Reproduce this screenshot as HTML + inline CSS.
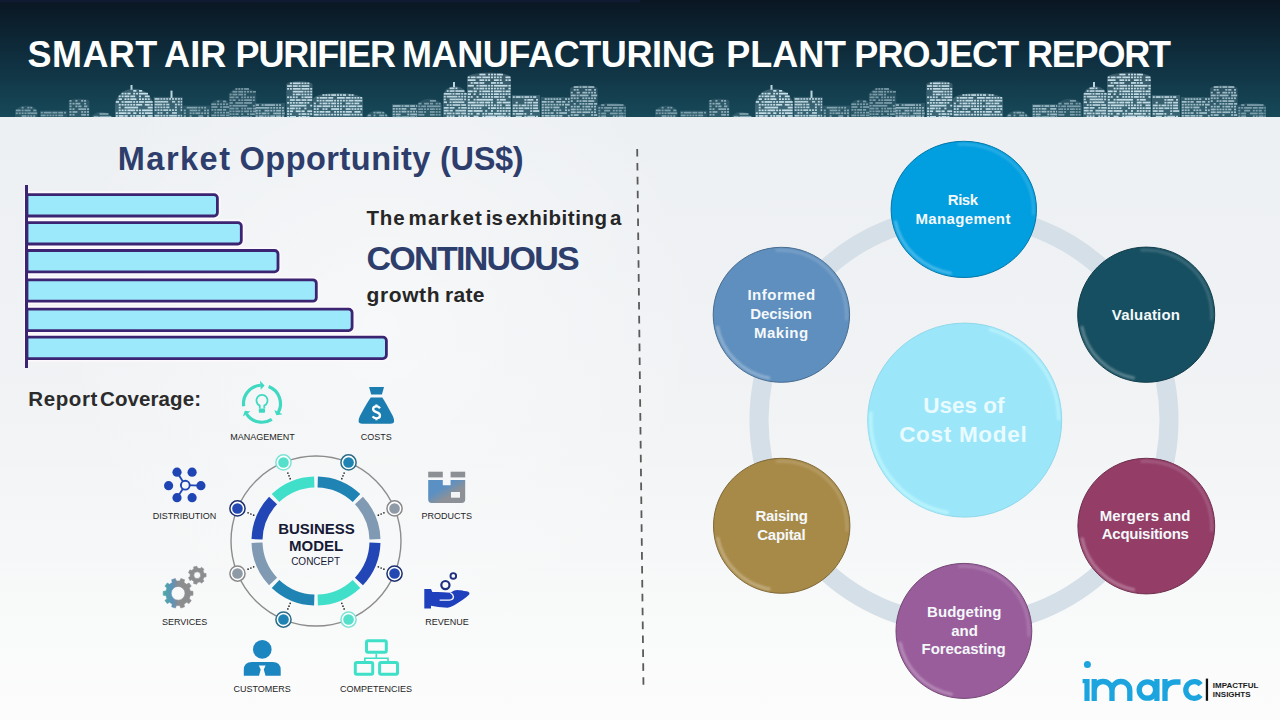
<!DOCTYPE html>
<html><head><meta charset="utf-8">
<style>
html,body{margin:0;padding:0;}
body{width:1280px;height:720px;overflow:hidden;position:relative;background:#eff1f4;font-family:"Liberation Sans",sans-serif;}
svg{position:absolute;left:0;top:0;}
</style></head><body>
<svg width="1280" height="720" viewBox="0 0 1280 720">
<defs>
<linearGradient id="hdr" x1="0" y1="0" x2="0" y2="1">
<stop offset="0" stop-color="#0a1622"/>
<stop offset="0.5" stop-color="#0f2f3f"/>
<stop offset="1" stop-color="#174959"/>
</linearGradient>
<linearGradient id="bg" x1="0" y1="0" x2="0" y2="1">
<stop offset="0" stop-color="#eff2f4"/>
<stop offset="0.5" stop-color="#f3f5f6"/>
<stop offset="1" stop-color="#f6f7f8"/>
</linearGradient>
</defs>
<defs>
<linearGradient id="bgv" x1="0" y1="117" x2="0" y2="720" gradientUnits="userSpaceOnUse"><stop offset="0" stop-color="#edf0f3"/><stop offset="0.5" stop-color="#f1f3f5"/><stop offset="0.85" stop-color="#f9fafa"/><stop offset="1" stop-color="#fcfcfd"/></linearGradient>
<radialGradient id="lt1" cx="380" cy="330" r="330" gradientUnits="userSpaceOnUse"><stop offset="0" stop-color="#ffffff" stop-opacity="0.45"/><stop offset="1" stop-color="#ffffff" stop-opacity="0"/></radialGradient>
</defs>
<rect x="0" y="117" width="1280" height="603" fill="url(#bgv)"/>
<rect x="0" y="117" width="1280" height="603" fill="url(#lt1)"/>
<!-- HEADER -->
<rect x="0" y="0" width="1280" height="117" fill="url(#hdr)"/>
<rect x="0" y="0" width="640" height="2.5" fill="#151f40" opacity="0.55"/>
<g><g id="sky" fill="#cfe6ef"><g><path d="M15 117 V112.3 A11.2 6.8 0 0 1 37.5 112.3 V117 Z" opacity="0.11"/><g opacity="0.5"><rect x="21.6" y="106.8" width="2.0" height="1.7"/><rect x="27.4" y="106.8" width="2.0" height="1.7"/><rect x="30.3" y="106.8" width="2.0" height="1.7"/><rect x="15.8" y="109.6" width="3.2" height="1.7"/><rect x="18.7" y="109.6" width="2.0" height="1.7"/><rect x="21.6" y="109.6" width="2.0" height="1.7"/><rect x="24.5" y="109.6" width="3.2" height="1.7"/><rect x="27.4" y="109.6" width="3.2" height="1.7"/><rect x="33.2" y="109.6" width="3.2" height="1.7"/><rect x="15.8" y="112.4" width="2.0" height="1.7"/><rect x="18.7" y="112.4" width="2.0" height="1.7"/><rect x="21.6" y="112.4" width="2.0" height="1.7"/><rect x="24.5" y="112.4" width="2.0" height="1.7"/><rect x="27.4" y="112.4" width="3.2" height="1.7"/><rect x="30.3" y="112.4" width="3.2" height="1.7"/><rect x="33.2" y="112.4" width="3.2" height="1.7"/><rect x="36.1" y="112.4" width="1.1" height="1.7"/><rect x="21.6" y="115.2" width="3.2" height="1.7"/><rect x="24.5" y="115.2" width="2.0" height="1.7"/><rect x="27.4" y="115.2" width="2.0" height="1.7"/><rect x="30.3" y="115.2" width="2.0" height="1.7"/><rect x="33.2" y="115.2" width="2.0" height="1.7"/></g></g><g><path d="M40 117 V110.6 A13.8 0.0 0 0 1 67.5 110.6 V117 Z" opacity="0.11"/><g opacity="0.5"><rect x="40.8" y="111.8" width="2.0" height="1.7"/><rect x="43.7" y="111.8" width="3.2" height="1.7"/><rect x="46.6" y="111.8" width="3.2" height="1.7"/><rect x="49.5" y="111.8" width="2.0" height="1.7"/><rect x="52.4" y="111.8" width="3.2" height="1.7"/><rect x="55.3" y="111.8" width="2.0" height="1.7"/><rect x="58.2" y="111.8" width="3.2" height="1.7"/><rect x="61.1" y="111.8" width="2.0" height="1.7"/><rect x="64.0" y="111.8" width="2.0" height="1.7"/><rect x="40.8" y="114.6" width="3.2" height="1.7"/><rect x="43.7" y="114.6" width="2.0" height="1.7"/><rect x="46.6" y="114.6" width="2.0" height="1.7"/><rect x="49.5" y="114.6" width="2.0" height="1.7"/><rect x="52.4" y="114.6" width="2.0" height="1.7"/><rect x="55.3" y="114.6" width="2.0" height="1.7"/><rect x="58.2" y="114.6" width="3.2" height="1.7"/><rect x="61.1" y="114.6" width="2.0" height="1.7"/></g></g><g><path d="M68.75 117 V101.2 A10.3 2.5 0 0 1 89.4 101.2 V117 Z" opacity="0.13"/><g opacity="0.6"><rect x="69.5" y="100.0" width="2.0" height="1.7"/><rect x="75.4" y="100.0" width="2.0" height="1.7"/><rect x="81.2" y="100.0" width="2.0" height="1.7"/><rect x="84.1" y="100.0" width="2.0" height="1.7"/><rect x="69.5" y="102.8" width="2.0" height="1.7"/><rect x="72.5" y="102.8" width="2.0" height="1.7"/><rect x="75.4" y="102.8" width="3.2" height="1.7"/><rect x="78.3" y="102.8" width="2.0" height="1.7"/><rect x="84.1" y="102.8" width="2.0" height="1.7"/><rect x="69.5" y="105.5" width="2.0" height="1.7"/><rect x="75.4" y="105.5" width="2.0" height="1.7"/><rect x="78.3" y="105.5" width="3.2" height="1.7"/><rect x="84.1" y="105.5" width="3.2" height="1.7"/><rect x="69.5" y="108.3" width="2.0" height="1.7"/><rect x="72.5" y="108.3" width="2.0" height="1.7"/><rect x="78.3" y="108.3" width="3.2" height="1.7"/><rect x="81.2" y="108.3" width="3.2" height="1.7"/><rect x="84.1" y="108.3" width="2.0" height="1.7"/><rect x="87.0" y="108.3" width="2.1" height="1.7"/><rect x="69.5" y="111.1" width="2.0" height="1.7"/><rect x="72.5" y="111.1" width="3.2" height="1.7"/><rect x="75.4" y="111.1" width="2.0" height="1.7"/><rect x="81.2" y="111.1" width="2.0" height="1.7"/><rect x="84.1" y="111.1" width="2.0" height="1.7"/><rect x="87.0" y="111.1" width="2.0" height="1.7"/><rect x="69.5" y="113.9" width="2.0" height="1.7"/><rect x="72.5" y="113.9" width="2.0" height="1.7"/><rect x="81.2" y="113.9" width="3.2" height="1.7"/><rect x="84.1" y="113.9" width="2.0" height="1.7"/><rect x="87.0" y="113.9" width="2.0" height="1.7"/></g></g><g><path d="M90 117 V122.0 A11.2 10.1 0 0 1 112.5 122.0 V117 Z" opacity="0.12"/><g opacity="0.55"><rect x="99.5" y="113.1" width="3.2" height="1.7"/><rect x="102.4" y="113.1" width="3.2" height="1.7"/><rect x="105.3" y="113.1" width="3.2" height="1.7"/><rect x="93.7" y="115.9" width="3.2" height="1.7"/><rect x="96.6" y="115.9" width="2.0" height="1.7"/><rect x="99.5" y="115.9" width="3.2" height="1.7"/><rect x="102.4" y="115.9" width="3.2" height="1.7"/><rect x="105.3" y="115.9" width="3.2" height="1.7"/><rect x="108.2" y="115.9" width="3.2" height="1.7"/></g></g><g><path d="M115 117 V105.8 A19.0 17.1 0 0 1 153 105.8 V117 Z" opacity="0.21"/><g opacity="0.95"><rect x="133.2" y="90.0" width="3.2" height="1.7"/><rect x="139.0" y="90.0" width="3.2" height="1.7"/><rect x="121.6" y="92.8" width="2.0" height="1.7"/><rect x="124.5" y="92.8" width="2.0" height="1.7"/><rect x="127.4" y="92.8" width="3.2" height="1.7"/><rect x="133.2" y="92.8" width="2.0" height="1.7"/><rect x="136.1" y="92.8" width="2.0" height="1.7"/><rect x="139.0" y="92.8" width="3.2" height="1.7"/><rect x="141.9" y="92.8" width="3.2" height="1.7"/><rect x="144.8" y="92.8" width="3.2" height="1.7"/><rect x="118.7" y="95.5" width="2.0" height="1.7"/><rect x="121.6" y="95.5" width="2.0" height="1.7"/><rect x="124.5" y="95.5" width="3.2" height="1.7"/><rect x="127.4" y="95.5" width="2.0" height="1.7"/><rect x="130.3" y="95.5" width="3.2" height="1.7"/><rect x="133.2" y="95.5" width="2.0" height="1.7"/><rect x="139.0" y="95.5" width="2.0" height="1.7"/><rect x="144.8" y="95.5" width="3.2" height="1.7"/><rect x="147.7" y="95.5" width="2.0" height="1.7"/><rect x="118.7" y="98.3" width="3.2" height="1.7"/><rect x="124.5" y="98.3" width="2.0" height="1.7"/><rect x="127.4" y="98.3" width="2.0" height="1.7"/><rect x="130.3" y="98.3" width="3.2" height="1.7"/><rect x="133.2" y="98.3" width="3.2" height="1.7"/><rect x="139.0" y="98.3" width="2.0" height="1.7"/><rect x="141.9" y="98.3" width="2.0" height="1.7"/><rect x="144.8" y="98.3" width="2.0" height="1.7"/><rect x="147.7" y="98.3" width="2.0" height="1.7"/><rect x="115.8" y="101.1" width="3.2" height="1.7"/><rect x="121.6" y="101.1" width="2.0" height="1.7"/><rect x="124.5" y="101.1" width="3.2" height="1.7"/><rect x="127.4" y="101.1" width="3.2" height="1.7"/><rect x="130.3" y="101.1" width="2.0" height="1.7"/><rect x="133.2" y="101.1" width="2.0" height="1.7"/><rect x="136.1" y="101.1" width="2.0" height="1.7"/><rect x="139.0" y="101.1" width="3.2" height="1.7"/><rect x="141.9" y="101.1" width="2.0" height="1.7"/><rect x="144.8" y="101.1" width="3.2" height="1.7"/><rect x="147.7" y="101.1" width="3.2" height="1.7"/><rect x="150.6" y="101.1" width="2.1" height="1.7"/><rect x="118.7" y="103.9" width="2.0" height="1.7"/><rect x="121.6" y="103.9" width="2.0" height="1.7"/><rect x="124.5" y="103.9" width="2.0" height="1.7"/><rect x="127.4" y="103.9" width="2.0" height="1.7"/><rect x="130.3" y="103.9" width="2.0" height="1.7"/><rect x="133.2" y="103.9" width="2.0" height="1.7"/><rect x="136.1" y="103.9" width="3.2" height="1.7"/><rect x="139.0" y="103.9" width="3.2" height="1.7"/><rect x="144.8" y="103.9" width="3.2" height="1.7"/><rect x="147.7" y="103.9" width="2.0" height="1.7"/><rect x="150.6" y="103.9" width="2.1" height="1.7"/><rect x="118.7" y="106.7" width="2.0" height="1.7"/><rect x="124.5" y="106.7" width="3.2" height="1.7"/><rect x="127.4" y="106.7" width="3.2" height="1.7"/><rect x="130.3" y="106.7" width="3.2" height="1.7"/><rect x="133.2" y="106.7" width="3.2" height="1.7"/><rect x="136.1" y="106.7" width="2.0" height="1.7"/><rect x="147.7" y="106.7" width="3.2" height="1.7"/><rect x="150.6" y="106.7" width="2.1" height="1.7"/><rect x="118.7" y="109.5" width="2.0" height="1.7"/><rect x="121.6" y="109.5" width="2.0" height="1.7"/><rect x="124.5" y="109.5" width="2.0" height="1.7"/><rect x="127.4" y="109.5" width="3.2" height="1.7"/><rect x="130.3" y="109.5" width="3.2" height="1.7"/><rect x="133.2" y="109.5" width="2.0" height="1.7"/><rect x="136.1" y="109.5" width="2.0" height="1.7"/><rect x="139.0" y="109.5" width="2.0" height="1.7"/><rect x="141.9" y="109.5" width="3.2" height="1.7"/><rect x="144.8" y="109.5" width="3.2" height="1.7"/><rect x="147.7" y="109.5" width="3.2" height="1.7"/><rect x="150.6" y="109.5" width="2.0" height="1.7"/><rect x="115.8" y="112.3" width="2.0" height="1.7"/><rect x="118.7" y="112.3" width="3.2" height="1.7"/><rect x="121.6" y="112.3" width="3.2" height="1.7"/><rect x="124.5" y="112.3" width="2.0" height="1.7"/><rect x="127.4" y="112.3" width="3.2" height="1.7"/><rect x="133.2" y="112.3" width="3.2" height="1.7"/><rect x="139.0" y="112.3" width="2.0" height="1.7"/><rect x="141.9" y="112.3" width="2.0" height="1.7"/><rect x="144.8" y="112.3" width="3.2" height="1.7"/><rect x="147.7" y="112.3" width="3.2" height="1.7"/><rect x="150.6" y="112.3" width="2.0" height="1.7"/><rect x="115.8" y="115.1" width="2.0" height="1.7"/><rect x="118.7" y="115.1" width="3.2" height="1.7"/><rect x="121.6" y="115.1" width="2.0" height="1.7"/><rect x="124.5" y="115.1" width="3.2" height="1.7"/><rect x="130.3" y="115.1" width="2.0" height="1.7"/><rect x="133.2" y="115.1" width="2.0" height="1.7"/><rect x="136.1" y="115.1" width="3.2" height="1.7"/><rect x="139.0" y="115.1" width="2.0" height="1.7"/><rect x="141.9" y="115.1" width="3.2" height="1.7"/><rect x="147.7" y="115.1" width="3.2" height="1.7"/><rect x="150.6" y="115.1" width="2.0" height="1.7"/></g></g><g><path d="M153.75 117 V96.9 A14.4 0.0 0 0 1 182.5 96.9 V117 Z" opacity="0.19"/><g opacity="0.85"><rect x="154.6" y="98.1" width="3.2" height="1.7"/><rect x="157.5" y="98.1" width="2.0" height="1.7"/><rect x="160.4" y="98.1" width="2.0" height="1.7"/><rect x="163.3" y="98.1" width="2.0" height="1.7"/><rect x="166.2" y="98.1" width="2.0" height="1.7"/><rect x="169.1" y="98.1" width="2.0" height="1.7"/><rect x="172.0" y="98.1" width="2.0" height="1.7"/><rect x="174.9" y="98.1" width="2.0" height="1.7"/><rect x="177.8" y="98.1" width="2.0" height="1.7"/><rect x="180.7" y="98.1" width="1.5" height="1.7"/><rect x="154.6" y="100.9" width="3.2" height="1.7"/><rect x="157.5" y="100.9" width="3.2" height="1.7"/><rect x="160.4" y="100.9" width="3.2" height="1.7"/><rect x="163.3" y="100.9" width="3.2" height="1.7"/><rect x="166.2" y="100.9" width="2.0" height="1.7"/><rect x="172.0" y="100.9" width="3.2" height="1.7"/><rect x="177.8" y="100.9" width="2.0" height="1.7"/><rect x="180.7" y="100.9" width="1.5" height="1.7"/><rect x="154.6" y="103.7" width="3.2" height="1.7"/><rect x="157.5" y="103.7" width="3.2" height="1.7"/><rect x="160.4" y="103.7" width="2.0" height="1.7"/><rect x="163.3" y="103.7" width="2.0" height="1.7"/><rect x="166.2" y="103.7" width="3.2" height="1.7"/><rect x="174.9" y="103.7" width="2.0" height="1.7"/><rect x="177.8" y="103.7" width="2.0" height="1.7"/><rect x="180.7" y="103.7" width="1.5" height="1.7"/><rect x="154.6" y="106.5" width="2.0" height="1.7"/><rect x="157.5" y="106.5" width="2.0" height="1.7"/><rect x="160.4" y="106.5" width="2.0" height="1.7"/><rect x="163.3" y="106.5" width="2.0" height="1.7"/><rect x="166.2" y="106.5" width="3.2" height="1.7"/><rect x="174.9" y="106.5" width="2.0" height="1.7"/><rect x="180.7" y="106.5" width="1.5" height="1.7"/><rect x="154.6" y="109.3" width="2.0" height="1.7"/><rect x="157.5" y="109.3" width="2.0" height="1.7"/><rect x="160.4" y="109.3" width="2.0" height="1.7"/><rect x="163.3" y="109.3" width="3.2" height="1.7"/><rect x="166.2" y="109.3" width="2.0" height="1.7"/><rect x="169.1" y="109.3" width="2.0" height="1.7"/><rect x="172.0" y="109.3" width="2.0" height="1.7"/><rect x="174.9" y="109.3" width="2.0" height="1.7"/><rect x="180.7" y="109.3" width="1.5" height="1.7"/><rect x="157.5" y="112.1" width="2.0" height="1.7"/><rect x="160.4" y="112.1" width="2.0" height="1.7"/><rect x="166.2" y="112.1" width="2.0" height="1.7"/><rect x="172.0" y="112.1" width="3.2" height="1.7"/><rect x="174.9" y="112.1" width="2.0" height="1.7"/><rect x="154.6" y="114.9" width="3.2" height="1.7"/><rect x="157.5" y="114.9" width="2.0" height="1.7"/><rect x="160.4" y="114.9" width="2.0" height="1.7"/><rect x="163.3" y="114.9" width="2.0" height="1.7"/><rect x="166.2" y="114.9" width="2.0" height="1.7"/><rect x="169.1" y="114.9" width="3.2" height="1.7"/><rect x="172.0" y="114.9" width="3.2" height="1.7"/><rect x="174.9" y="114.9" width="2.0" height="1.7"/><rect x="177.8" y="114.9" width="2.0" height="1.7"/><rect x="180.7" y="114.9" width="1.5" height="1.7"/></g></g><g><path d="M183 117 V105.6 A13.5 0.0 0 0 1 210 105.6 V117 Z" opacity="0.12"/><g opacity="0.55"><rect x="186.7" y="106.8" width="3.2" height="1.7"/><rect x="189.6" y="106.8" width="3.2" height="1.7"/><rect x="192.5" y="106.8" width="3.2" height="1.7"/><rect x="195.4" y="106.8" width="2.0" height="1.7"/><rect x="198.3" y="106.8" width="2.0" height="1.7"/><rect x="201.2" y="106.8" width="2.0" height="1.7"/><rect x="204.1" y="106.8" width="2.0" height="1.7"/><rect x="183.8" y="109.6" width="2.0" height="1.7"/><rect x="189.6" y="109.6" width="3.2" height="1.7"/><rect x="192.5" y="109.6" width="3.2" height="1.7"/><rect x="195.4" y="109.6" width="2.0" height="1.7"/><rect x="198.3" y="109.6" width="2.0" height="1.7"/><rect x="204.1" y="109.6" width="2.0" height="1.7"/><rect x="207.0" y="109.6" width="2.0" height="1.7"/><rect x="183.8" y="112.4" width="2.0" height="1.7"/><rect x="189.6" y="112.4" width="2.0" height="1.7"/><rect x="192.5" y="112.4" width="2.0" height="1.7"/><rect x="195.4" y="112.4" width="3.2" height="1.7"/><rect x="198.3" y="112.4" width="2.0" height="1.7"/><rect x="201.2" y="112.4" width="2.0" height="1.7"/><rect x="204.1" y="112.4" width="2.0" height="1.7"/><rect x="207.0" y="112.4" width="2.0" height="1.7"/><rect x="183.8" y="115.2" width="2.0" height="1.7"/><rect x="189.6" y="115.2" width="2.0" height="1.7"/><rect x="198.3" y="115.2" width="3.2" height="1.7"/><rect x="201.2" y="115.2" width="2.0" height="1.7"/><rect x="207.0" y="115.2" width="2.0" height="1.7"/></g></g><g><path d="M210.6 117 V105.2 A9.7 5.8 0 0 1 230 105.2 V117 Z" opacity="0.11"/><g opacity="0.5"><rect x="217.2" y="100.6" width="2.0" height="1.7"/><rect x="223.0" y="100.6" width="3.2" height="1.7"/><rect x="211.4" y="103.4" width="3.2" height="1.7"/><rect x="214.3" y="103.4" width="2.0" height="1.7"/><rect x="217.2" y="103.4" width="2.0" height="1.7"/><rect x="220.1" y="103.4" width="2.0" height="1.7"/><rect x="223.0" y="103.4" width="2.0" height="1.7"/><rect x="225.9" y="103.4" width="2.0" height="1.7"/><rect x="211.4" y="106.2" width="3.2" height="1.7"/><rect x="214.3" y="106.2" width="3.2" height="1.7"/><rect x="220.1" y="106.2" width="2.0" height="1.7"/><rect x="223.0" y="106.2" width="3.2" height="1.7"/><rect x="225.9" y="106.2" width="3.2" height="1.7"/><rect x="211.4" y="109.0" width="2.0" height="1.7"/><rect x="214.3" y="109.0" width="2.0" height="1.7"/><rect x="217.2" y="109.0" width="3.2" height="1.7"/><rect x="220.1" y="109.0" width="2.0" height="1.7"/><rect x="223.0" y="109.0" width="3.2" height="1.7"/><rect x="214.3" y="111.8" width="2.0" height="1.7"/><rect x="217.2" y="111.8" width="2.0" height="1.7"/><rect x="220.1" y="111.8" width="2.0" height="1.7"/><rect x="223.0" y="111.8" width="2.0" height="1.7"/><rect x="225.9" y="111.8" width="3.2" height="1.7"/><rect x="211.4" y="114.6" width="3.2" height="1.7"/><rect x="214.3" y="114.6" width="2.0" height="1.7"/><rect x="217.2" y="114.6" width="2.0" height="1.7"/><rect x="220.1" y="114.6" width="3.2" height="1.7"/><rect x="223.0" y="114.6" width="2.0" height="1.7"/><rect x="225.9" y="114.6" width="3.2" height="1.7"/></g></g><g><path d="M228.75 117 V95.2 A13.8 8.2 0 0 1 256.25 95.2 V117 Z" opacity="0.11"/><g opacity="0.5"><rect x="235.4" y="88.1" width="2.0" height="1.7"/><rect x="238.3" y="88.1" width="2.0" height="1.7"/><rect x="241.2" y="88.1" width="2.0" height="1.7"/><rect x="244.1" y="88.1" width="3.2" height="1.7"/><rect x="247.0" y="88.1" width="2.0" height="1.7"/><rect x="232.5" y="90.9" width="3.2" height="1.7"/><rect x="235.4" y="90.9" width="2.0" height="1.7"/><rect x="238.3" y="90.9" width="3.2" height="1.7"/><rect x="241.2" y="90.9" width="2.0" height="1.7"/><rect x="244.1" y="90.9" width="2.0" height="1.7"/><rect x="247.0" y="90.9" width="2.0" height="1.7"/><rect x="249.9" y="90.9" width="2.0" height="1.7"/><rect x="252.8" y="90.9" width="3.2" height="1.7"/><rect x="229.6" y="93.7" width="2.0" height="1.7"/><rect x="232.5" y="93.7" width="3.2" height="1.7"/><rect x="235.4" y="93.7" width="2.0" height="1.7"/><rect x="238.3" y="93.7" width="3.2" height="1.7"/><rect x="241.2" y="93.7" width="2.0" height="1.7"/><rect x="244.1" y="93.7" width="2.0" height="1.7"/><rect x="229.6" y="96.5" width="3.2" height="1.7"/><rect x="232.5" y="96.5" width="2.0" height="1.7"/><rect x="235.4" y="96.5" width="3.2" height="1.7"/><rect x="241.2" y="96.5" width="2.0" height="1.7"/><rect x="244.1" y="96.5" width="2.0" height="1.7"/><rect x="247.0" y="96.5" width="2.0" height="1.7"/><rect x="249.9" y="96.5" width="2.0" height="1.7"/><rect x="252.8" y="96.5" width="2.0" height="1.7"/><rect x="229.6" y="99.3" width="2.0" height="1.7"/><rect x="232.5" y="99.3" width="3.2" height="1.7"/><rect x="238.3" y="99.3" width="2.0" height="1.7"/><rect x="241.2" y="99.3" width="2.0" height="1.7"/><rect x="244.1" y="99.3" width="3.2" height="1.7"/><rect x="247.0" y="99.3" width="3.2" height="1.7"/><rect x="249.9" y="99.3" width="2.0" height="1.7"/><rect x="252.8" y="99.3" width="2.0" height="1.7"/><rect x="229.6" y="102.1" width="3.2" height="1.7"/><rect x="235.4" y="102.1" width="3.2" height="1.7"/><rect x="238.3" y="102.1" width="3.2" height="1.7"/><rect x="241.2" y="102.1" width="2.0" height="1.7"/><rect x="244.1" y="102.1" width="3.2" height="1.7"/><rect x="247.0" y="102.1" width="3.2" height="1.7"/><rect x="249.9" y="102.1" width="2.0" height="1.7"/><rect x="229.6" y="104.9" width="2.0" height="1.7"/><rect x="232.5" y="104.9" width="3.2" height="1.7"/><rect x="235.4" y="104.9" width="3.2" height="1.7"/><rect x="238.3" y="104.9" width="3.2" height="1.7"/><rect x="241.2" y="104.9" width="3.2" height="1.7"/><rect x="244.1" y="104.9" width="3.2" height="1.7"/><rect x="252.8" y="104.9" width="2.0" height="1.7"/><rect x="229.6" y="107.7" width="3.2" height="1.7"/><rect x="232.5" y="107.7" width="2.0" height="1.7"/><rect x="235.4" y="107.7" width="3.2" height="1.7"/><rect x="241.2" y="107.7" width="2.0" height="1.7"/><rect x="244.1" y="107.7" width="2.0" height="1.7"/><rect x="247.0" y="107.7" width="3.2" height="1.7"/><rect x="249.9" y="107.7" width="2.0" height="1.7"/><rect x="252.8" y="107.7" width="3.2" height="1.7"/><rect x="229.6" y="110.5" width="2.0" height="1.7"/><rect x="232.5" y="110.5" width="2.0" height="1.7"/><rect x="235.4" y="110.5" width="3.2" height="1.7"/><rect x="238.3" y="110.5" width="2.0" height="1.7"/><rect x="241.2" y="110.5" width="2.0" height="1.7"/><rect x="244.1" y="110.5" width="3.2" height="1.7"/><rect x="247.0" y="110.5" width="2.0" height="1.7"/><rect x="249.9" y="110.5" width="2.0" height="1.7"/><rect x="252.8" y="110.5" width="3.2" height="1.7"/><rect x="229.6" y="113.3" width="2.0" height="1.7"/><rect x="232.5" y="113.3" width="2.0" height="1.7"/><rect x="235.4" y="113.3" width="3.2" height="1.7"/><rect x="241.2" y="113.3" width="2.0" height="1.7"/><rect x="247.0" y="113.3" width="2.0" height="1.7"/><rect x="249.9" y="113.3" width="3.2" height="1.7"/><rect x="252.8" y="113.3" width="2.0" height="1.7"/><rect x="229.6" y="116.1" width="2.0" height="1.7"/><rect x="232.5" y="116.1" width="3.2" height="1.7"/><rect x="235.4" y="116.1" width="2.0" height="1.7"/><rect x="238.3" y="116.1" width="2.0" height="1.7"/><rect x="241.2" y="116.1" width="3.2" height="1.7"/><rect x="244.1" y="116.1" width="3.2" height="1.7"/><rect x="247.0" y="116.1" width="2.0" height="1.7"/><rect x="249.9" y="116.1" width="2.0" height="1.7"/></g></g><g><path d="M255 117 V103.0 A15.0 0.0 0 0 1 285 103.0 V117 Z" opacity="0.14"/><g opacity="0.65"><rect x="255.8" y="104.2" width="3.2" height="1.7"/><rect x="261.6" y="104.2" width="2.0" height="1.7"/><rect x="264.5" y="104.2" width="3.2" height="1.7"/><rect x="267.4" y="104.2" width="3.2" height="1.7"/><rect x="270.3" y="104.2" width="3.2" height="1.7"/><rect x="273.2" y="104.2" width="2.0" height="1.7"/><rect x="276.1" y="104.2" width="2.0" height="1.7"/><rect x="279.0" y="104.2" width="2.0" height="1.7"/><rect x="255.8" y="107.0" width="3.2" height="1.7"/><rect x="258.7" y="107.0" width="3.2" height="1.7"/><rect x="261.6" y="107.0" width="3.2" height="1.7"/><rect x="264.5" y="107.0" width="3.2" height="1.7"/><rect x="267.4" y="107.0" width="2.0" height="1.7"/><rect x="270.3" y="107.0" width="2.0" height="1.7"/><rect x="273.2" y="107.0" width="2.0" height="1.7"/><rect x="276.1" y="107.0" width="2.0" height="1.7"/><rect x="279.0" y="107.0" width="2.0" height="1.7"/><rect x="281.9" y="107.0" width="2.0" height="1.7"/><rect x="255.8" y="109.8" width="2.0" height="1.7"/><rect x="258.7" y="109.8" width="2.0" height="1.7"/><rect x="264.5" y="109.8" width="3.2" height="1.7"/><rect x="267.4" y="109.8" width="2.0" height="1.7"/><rect x="270.3" y="109.8" width="2.0" height="1.7"/><rect x="273.2" y="109.8" width="2.0" height="1.7"/><rect x="276.1" y="109.8" width="3.2" height="1.7"/><rect x="279.0" y="109.8" width="2.0" height="1.7"/><rect x="281.9" y="109.8" width="2.0" height="1.7"/><rect x="255.8" y="112.6" width="2.0" height="1.7"/><rect x="258.7" y="112.6" width="2.0" height="1.7"/><rect x="261.6" y="112.6" width="3.2" height="1.7"/><rect x="264.5" y="112.6" width="2.0" height="1.7"/><rect x="267.4" y="112.6" width="2.0" height="1.7"/><rect x="273.2" y="112.6" width="3.2" height="1.7"/><rect x="276.1" y="112.6" width="3.2" height="1.7"/><rect x="279.0" y="112.6" width="2.0" height="1.7"/><rect x="281.9" y="112.6" width="2.8" height="1.7"/><rect x="255.8" y="115.4" width="2.0" height="1.7"/><rect x="258.7" y="115.4" width="3.2" height="1.7"/><rect x="261.6" y="115.4" width="2.0" height="1.7"/><rect x="264.5" y="115.4" width="2.0" height="1.7"/><rect x="267.4" y="115.4" width="2.0" height="1.7"/><rect x="270.3" y="115.4" width="3.2" height="1.7"/><rect x="273.2" y="115.4" width="2.0" height="1.7"/><rect x="276.1" y="115.4" width="3.2" height="1.7"/><rect x="279.0" y="115.4" width="2.0" height="1.7"/><rect x="281.9" y="115.4" width="2.0" height="1.7"/></g></g><g><path d="M286.25 117 V84.4 A13.1 3.1 0 0 1 312.5 84.4 V117 Z" opacity="0.20"/><g opacity="0.92"><rect x="289.9" y="82.5" width="2.0" height="1.7"/><rect x="292.8" y="82.5" width="3.2" height="1.7"/><rect x="295.7" y="82.5" width="3.2" height="1.7"/><rect x="298.6" y="82.5" width="2.0" height="1.7"/><rect x="301.5" y="82.5" width="2.0" height="1.7"/><rect x="304.4" y="82.5" width="2.0" height="1.7"/><rect x="307.3" y="82.5" width="2.0" height="1.7"/><rect x="287.1" y="85.2" width="3.2" height="1.7"/><rect x="289.9" y="85.2" width="2.0" height="1.7"/><rect x="292.8" y="85.2" width="3.2" height="1.7"/><rect x="295.7" y="85.2" width="2.0" height="1.7"/><rect x="298.6" y="85.2" width="2.0" height="1.7"/><rect x="301.5" y="85.2" width="3.2" height="1.7"/><rect x="304.4" y="85.2" width="3.2" height="1.7"/><rect x="307.3" y="85.2" width="2.0" height="1.7"/><rect x="287.1" y="88.0" width="2.0" height="1.7"/><rect x="289.9" y="88.0" width="2.0" height="1.7"/><rect x="292.8" y="88.0" width="3.2" height="1.7"/><rect x="295.7" y="88.0" width="3.2" height="1.7"/><rect x="298.6" y="88.0" width="2.0" height="1.7"/><rect x="301.5" y="88.0" width="3.2" height="1.7"/><rect x="304.4" y="88.0" width="3.2" height="1.7"/><rect x="307.3" y="88.0" width="2.0" height="1.7"/><rect x="310.2" y="88.0" width="2.0" height="1.7"/><rect x="292.8" y="90.8" width="3.2" height="1.7"/><rect x="295.7" y="90.8" width="3.2" height="1.7"/><rect x="298.6" y="90.8" width="3.2" height="1.7"/><rect x="301.5" y="90.8" width="2.0" height="1.7"/><rect x="304.4" y="90.8" width="2.0" height="1.7"/><rect x="307.3" y="90.8" width="2.0" height="1.7"/><rect x="310.2" y="90.8" width="2.0" height="1.7"/><rect x="292.8" y="93.6" width="2.0" height="1.7"/><rect x="295.7" y="93.6" width="3.2" height="1.7"/><rect x="298.6" y="93.6" width="2.0" height="1.7"/><rect x="301.5" y="93.6" width="2.0" height="1.7"/><rect x="304.4" y="93.6" width="2.0" height="1.7"/><rect x="307.3" y="93.6" width="2.0" height="1.7"/><rect x="310.2" y="93.6" width="2.0" height="1.7"/><rect x="287.1" y="96.4" width="2.0" height="1.7"/><rect x="289.9" y="96.4" width="2.0" height="1.7"/><rect x="292.8" y="96.4" width="2.0" height="1.7"/><rect x="295.7" y="96.4" width="2.0" height="1.7"/><rect x="301.5" y="96.4" width="2.0" height="1.7"/><rect x="304.4" y="96.4" width="3.2" height="1.7"/><rect x="307.3" y="96.4" width="3.2" height="1.7"/><rect x="310.2" y="96.4" width="2.0" height="1.7"/><rect x="289.9" y="99.2" width="3.2" height="1.7"/><rect x="292.8" y="99.2" width="2.0" height="1.7"/><rect x="295.7" y="99.2" width="3.2" height="1.7"/><rect x="298.6" y="99.2" width="2.0" height="1.7"/><rect x="301.5" y="99.2" width="3.2" height="1.7"/><rect x="304.4" y="99.2" width="2.0" height="1.7"/><rect x="307.3" y="99.2" width="3.2" height="1.7"/><rect x="310.2" y="99.2" width="2.0" height="1.7"/><rect x="287.1" y="102.0" width="2.0" height="1.7"/><rect x="289.9" y="102.0" width="2.0" height="1.7"/><rect x="292.8" y="102.0" width="2.0" height="1.7"/><rect x="295.7" y="102.0" width="2.0" height="1.7"/><rect x="298.6" y="102.0" width="3.2" height="1.7"/><rect x="301.5" y="102.0" width="2.0" height="1.7"/><rect x="304.4" y="102.0" width="2.0" height="1.7"/><rect x="307.3" y="102.0" width="2.0" height="1.7"/><rect x="289.9" y="104.8" width="3.2" height="1.7"/><rect x="292.8" y="104.8" width="3.2" height="1.7"/><rect x="295.7" y="104.8" width="3.2" height="1.7"/><rect x="298.6" y="104.8" width="3.2" height="1.7"/><rect x="301.5" y="104.8" width="3.2" height="1.7"/><rect x="304.4" y="104.8" width="2.0" height="1.7"/><rect x="310.2" y="104.8" width="2.0" height="1.7"/><rect x="287.1" y="107.6" width="2.0" height="1.7"/><rect x="289.9" y="107.6" width="3.2" height="1.7"/><rect x="292.8" y="107.6" width="2.0" height="1.7"/><rect x="295.7" y="107.6" width="2.0" height="1.7"/><rect x="298.6" y="107.6" width="2.0" height="1.7"/><rect x="304.4" y="107.6" width="2.0" height="1.7"/><rect x="287.1" y="110.4" width="2.0" height="1.7"/><rect x="289.9" y="110.4" width="3.2" height="1.7"/><rect x="295.7" y="110.4" width="3.2" height="1.7"/><rect x="298.6" y="110.4" width="2.0" height="1.7"/><rect x="301.5" y="110.4" width="3.2" height="1.7"/><rect x="307.3" y="110.4" width="3.2" height="1.7"/><rect x="310.2" y="110.4" width="2.0" height="1.7"/><rect x="287.1" y="113.2" width="2.0" height="1.7"/><rect x="289.9" y="113.2" width="2.0" height="1.7"/><rect x="298.6" y="113.2" width="2.0" height="1.7"/><rect x="301.5" y="113.2" width="3.2" height="1.7"/><rect x="304.4" y="113.2" width="2.0" height="1.7"/><rect x="307.3" y="113.2" width="2.0" height="1.7"/><rect x="310.2" y="113.2" width="2.0" height="1.7"/><rect x="287.1" y="116.0" width="2.0" height="1.7"/><rect x="289.9" y="116.0" width="3.2" height="1.7"/><rect x="292.8" y="116.0" width="3.2" height="1.7"/><rect x="298.6" y="116.0" width="2.0" height="1.7"/><rect x="301.5" y="116.0" width="3.2" height="1.7"/><rect x="304.4" y="116.0" width="2.0" height="1.7"/><rect x="307.3" y="116.0" width="2.0" height="1.7"/></g></g><g><path d="M313 117 V99.0 A25.0 6.0 0 0 1 363 99.0 V117 Z" opacity="0.20"/><g opacity="0.92"><rect x="322.5" y="94.2" width="2.0" height="1.7"/><rect x="325.4" y="94.2" width="2.0" height="1.7"/><rect x="328.3" y="94.2" width="2.0" height="1.7"/><rect x="331.2" y="94.2" width="3.2" height="1.7"/><rect x="334.1" y="94.2" width="2.0" height="1.7"/><rect x="337.0" y="94.2" width="2.0" height="1.7"/><rect x="339.9" y="94.2" width="2.0" height="1.7"/><rect x="342.8" y="94.2" width="3.2" height="1.7"/><rect x="348.6" y="94.2" width="2.0" height="1.7"/><rect x="351.5" y="94.2" width="2.0" height="1.7"/><rect x="316.7" y="97.0" width="2.0" height="1.7"/><rect x="319.6" y="97.0" width="3.2" height="1.7"/><rect x="322.5" y="97.0" width="3.2" height="1.7"/><rect x="325.4" y="97.0" width="2.0" height="1.7"/><rect x="328.3" y="97.0" width="3.2" height="1.7"/><rect x="331.2" y="97.0" width="2.0" height="1.7"/><rect x="337.0" y="97.0" width="3.2" height="1.7"/><rect x="339.9" y="97.0" width="3.2" height="1.7"/><rect x="342.8" y="97.0" width="2.0" height="1.7"/><rect x="345.7" y="97.0" width="3.2" height="1.7"/><rect x="348.6" y="97.0" width="2.0" height="1.7"/><rect x="351.5" y="97.0" width="2.0" height="1.7"/><rect x="354.4" y="97.0" width="2.0" height="1.7"/><rect x="357.3" y="97.0" width="2.0" height="1.7"/><rect x="360.2" y="97.0" width="2.0" height="1.7"/><rect x="316.7" y="99.8" width="2.0" height="1.7"/><rect x="319.6" y="99.8" width="2.0" height="1.7"/><rect x="322.5" y="99.8" width="2.0" height="1.7"/><rect x="325.4" y="99.8" width="3.2" height="1.7"/><rect x="328.3" y="99.8" width="3.2" height="1.7"/><rect x="331.2" y="99.8" width="2.0" height="1.7"/><rect x="334.1" y="99.8" width="2.0" height="1.7"/><rect x="337.0" y="99.8" width="2.0" height="1.7"/><rect x="339.9" y="99.8" width="2.0" height="1.7"/><rect x="342.8" y="99.8" width="2.0" height="1.7"/><rect x="345.7" y="99.8" width="2.0" height="1.7"/><rect x="348.6" y="99.8" width="3.2" height="1.7"/><rect x="351.5" y="99.8" width="2.0" height="1.7"/><rect x="354.4" y="99.8" width="3.2" height="1.7"/><rect x="357.3" y="99.8" width="3.2" height="1.7"/><rect x="360.2" y="99.8" width="2.0" height="1.7"/><rect x="313.8" y="102.6" width="2.0" height="1.7"/><rect x="319.6" y="102.6" width="2.0" height="1.7"/><rect x="322.5" y="102.6" width="3.2" height="1.7"/><rect x="325.4" y="102.6" width="2.0" height="1.7"/><rect x="328.3" y="102.6" width="2.0" height="1.7"/><rect x="331.2" y="102.6" width="3.2" height="1.7"/><rect x="334.1" y="102.6" width="2.0" height="1.7"/><rect x="337.0" y="102.6" width="2.0" height="1.7"/><rect x="339.9" y="102.6" width="2.0" height="1.7"/><rect x="345.7" y="102.6" width="3.2" height="1.7"/><rect x="348.6" y="102.6" width="2.0" height="1.7"/><rect x="351.5" y="102.6" width="2.0" height="1.7"/><rect x="354.4" y="102.6" width="3.2" height="1.7"/><rect x="357.3" y="102.6" width="2.0" height="1.7"/><rect x="313.8" y="105.4" width="2.0" height="1.7"/><rect x="316.7" y="105.4" width="3.2" height="1.7"/><rect x="319.6" y="105.4" width="2.0" height="1.7"/><rect x="322.5" y="105.4" width="3.2" height="1.7"/><rect x="325.4" y="105.4" width="3.2" height="1.7"/><rect x="328.3" y="105.4" width="2.0" height="1.7"/><rect x="331.2" y="105.4" width="2.0" height="1.7"/><rect x="334.1" y="105.4" width="2.0" height="1.7"/><rect x="337.0" y="105.4" width="2.0" height="1.7"/><rect x="339.9" y="105.4" width="2.0" height="1.7"/><rect x="342.8" y="105.4" width="2.0" height="1.7"/><rect x="345.7" y="105.4" width="2.0" height="1.7"/><rect x="348.6" y="105.4" width="3.2" height="1.7"/><rect x="351.5" y="105.4" width="3.2" height="1.7"/><rect x="354.4" y="105.4" width="2.0" height="1.7"/><rect x="357.3" y="105.4" width="3.2" height="1.7"/><rect x="360.2" y="105.4" width="2.0" height="1.7"/><rect x="313.8" y="108.2" width="2.0" height="1.7"/><rect x="316.7" y="108.2" width="2.0" height="1.7"/><rect x="322.5" y="108.2" width="2.0" height="1.7"/><rect x="325.4" y="108.2" width="2.0" height="1.7"/><rect x="331.2" y="108.2" width="3.2" height="1.7"/><rect x="334.1" y="108.2" width="3.2" height="1.7"/><rect x="337.0" y="108.2" width="2.0" height="1.7"/><rect x="339.9" y="108.2" width="2.0" height="1.7"/><rect x="345.7" y="108.2" width="3.2" height="1.7"/><rect x="348.6" y="108.2" width="2.0" height="1.7"/><rect x="351.5" y="108.2" width="2.0" height="1.7"/><rect x="354.4" y="108.2" width="2.0" height="1.7"/><rect x="357.3" y="108.2" width="2.0" height="1.7"/><rect x="360.2" y="108.2" width="2.0" height="1.7"/><rect x="313.8" y="111.0" width="2.0" height="1.7"/><rect x="316.7" y="111.0" width="2.0" height="1.7"/><rect x="319.6" y="111.0" width="3.2" height="1.7"/><rect x="322.5" y="111.0" width="2.0" height="1.7"/><rect x="325.4" y="111.0" width="3.2" height="1.7"/><rect x="328.3" y="111.0" width="2.0" height="1.7"/><rect x="334.1" y="111.0" width="2.0" height="1.7"/><rect x="337.0" y="111.0" width="2.0" height="1.7"/><rect x="339.9" y="111.0" width="2.0" height="1.7"/><rect x="342.8" y="111.0" width="2.0" height="1.7"/><rect x="345.7" y="111.0" width="3.2" height="1.7"/><rect x="348.6" y="111.0" width="3.2" height="1.7"/><rect x="354.4" y="111.0" width="3.2" height="1.7"/><rect x="357.3" y="111.0" width="3.2" height="1.7"/><rect x="313.8" y="113.8" width="3.2" height="1.7"/><rect x="316.7" y="113.8" width="2.0" height="1.7"/><rect x="319.6" y="113.8" width="2.0" height="1.7"/><rect x="322.5" y="113.8" width="2.0" height="1.7"/><rect x="325.4" y="113.8" width="2.0" height="1.7"/><rect x="328.3" y="113.8" width="2.0" height="1.7"/><rect x="331.2" y="113.8" width="2.0" height="1.7"/><rect x="334.1" y="113.8" width="2.0" height="1.7"/><rect x="337.0" y="113.8" width="2.0" height="1.7"/><rect x="339.9" y="113.8" width="2.0" height="1.7"/><rect x="342.8" y="113.8" width="3.2" height="1.7"/><rect x="345.7" y="113.8" width="3.2" height="1.7"/><rect x="348.6" y="113.8" width="2.0" height="1.7"/><rect x="351.5" y="113.8" width="2.0" height="1.7"/><rect x="354.4" y="113.8" width="2.0" height="1.7"/><rect x="357.3" y="113.8" width="2.0" height="1.7"/><rect x="360.2" y="113.8" width="2.0" height="1.7"/></g></g><g><path d="M364 117 V122.8 A13.5 12.2 0 0 1 391 122.8 V117 Z" opacity="0.12"/><g opacity="0.55"><rect x="373.5" y="111.8" width="2.0" height="1.7"/><rect x="376.4" y="111.8" width="3.2" height="1.7"/><rect x="379.3" y="111.8" width="2.0" height="1.7"/><rect x="382.2" y="111.8" width="2.0" height="1.7"/><rect x="367.7" y="114.6" width="3.2" height="1.7"/><rect x="373.5" y="114.6" width="2.0" height="1.7"/><rect x="379.3" y="114.6" width="3.2" height="1.7"/><rect x="382.2" y="114.6" width="2.0" height="1.7"/><rect x="385.1" y="114.6" width="2.0" height="1.7"/></g></g><g><path d="M392 117 V104.0 A12.8 0.0 0 0 1 417.5 104.0 V117 Z" opacity="0.15"/><g opacity="0.7"><rect x="392.8" y="105.2" width="3.2" height="1.7"/><rect x="395.7" y="105.2" width="3.2" height="1.7"/><rect x="398.6" y="105.2" width="2.0" height="1.7"/><rect x="401.5" y="105.2" width="2.0" height="1.7"/><rect x="404.4" y="105.2" width="3.2" height="1.7"/><rect x="407.3" y="105.2" width="2.0" height="1.7"/><rect x="410.2" y="105.2" width="3.2" height="1.7"/><rect x="413.1" y="105.2" width="2.0" height="1.7"/><rect x="416.0" y="105.2" width="1.2" height="1.7"/><rect x="392.8" y="108.0" width="2.0" height="1.7"/><rect x="395.7" y="108.0" width="2.0" height="1.7"/><rect x="398.6" y="108.0" width="2.0" height="1.7"/><rect x="401.5" y="108.0" width="3.2" height="1.7"/><rect x="404.4" y="108.0" width="2.0" height="1.7"/><rect x="410.2" y="108.0" width="3.2" height="1.7"/><rect x="413.1" y="108.0" width="3.2" height="1.7"/><rect x="392.8" y="110.8" width="2.0" height="1.7"/><rect x="395.7" y="110.8" width="2.0" height="1.7"/><rect x="398.6" y="110.8" width="2.0" height="1.7"/><rect x="401.5" y="110.8" width="3.2" height="1.7"/><rect x="404.4" y="110.8" width="2.0" height="1.7"/><rect x="407.3" y="110.8" width="2.0" height="1.7"/><rect x="410.2" y="110.8" width="2.0" height="1.7"/><rect x="413.1" y="110.8" width="2.0" height="1.7"/><rect x="416.0" y="110.8" width="1.2" height="1.7"/><rect x="392.8" y="113.6" width="2.0" height="1.7"/><rect x="395.7" y="113.6" width="3.2" height="1.7"/><rect x="398.6" y="113.6" width="2.0" height="1.7"/><rect x="407.3" y="113.6" width="2.0" height="1.7"/><rect x="410.2" y="113.6" width="3.2" height="1.7"/><rect x="413.1" y="113.6" width="3.2" height="1.7"/><rect x="416.0" y="113.6" width="1.2" height="1.7"/><rect x="392.8" y="116.4" width="2.0" height="1.7"/><rect x="395.7" y="116.4" width="3.2" height="1.7"/><rect x="398.6" y="116.4" width="2.0" height="1.7"/><rect x="401.5" y="116.4" width="3.2" height="1.7"/><rect x="404.4" y="116.4" width="3.2" height="1.7"/><rect x="407.3" y="116.4" width="2.0" height="1.7"/><rect x="410.2" y="116.4" width="3.2" height="1.7"/><rect x="413.1" y="116.4" width="2.0" height="1.7"/><rect x="416.0" y="116.4" width="1.2" height="1.7"/></g></g><g><path d="M417.5 117 V106.1 A12.2 7.3 0 0 1 442 106.1 V117 Z" opacity="0.11"/><g opacity="0.5"><rect x="429.9" y="100.0" width="3.2" height="1.7"/><rect x="432.8" y="100.0" width="3.2" height="1.7"/><rect x="418.3" y="102.8" width="3.2" height="1.7"/><rect x="424.1" y="102.8" width="3.2" height="1.7"/><rect x="427.0" y="102.8" width="2.0" height="1.7"/><rect x="429.9" y="102.8" width="3.2" height="1.7"/><rect x="435.7" y="102.8" width="2.0" height="1.7"/><rect x="438.6" y="102.8" width="2.0" height="1.7"/><rect x="418.3" y="105.5" width="2.0" height="1.7"/><rect x="421.2" y="105.5" width="3.2" height="1.7"/><rect x="424.1" y="105.5" width="2.0" height="1.7"/><rect x="427.0" y="105.5" width="3.2" height="1.7"/><rect x="429.9" y="105.5" width="3.2" height="1.7"/><rect x="432.8" y="105.5" width="3.2" height="1.7"/><rect x="435.7" y="105.5" width="3.2" height="1.7"/><rect x="438.6" y="105.5" width="2.0" height="1.7"/><rect x="418.3" y="108.3" width="3.2" height="1.7"/><rect x="421.2" y="108.3" width="2.0" height="1.7"/><rect x="424.1" y="108.3" width="2.0" height="1.7"/><rect x="427.0" y="108.3" width="2.0" height="1.7"/><rect x="429.9" y="108.3" width="3.2" height="1.7"/><rect x="432.8" y="108.3" width="2.0" height="1.7"/><rect x="435.7" y="108.3" width="2.0" height="1.7"/><rect x="438.6" y="108.3" width="2.0" height="1.7"/><rect x="418.3" y="111.1" width="3.2" height="1.7"/><rect x="421.2" y="111.1" width="2.0" height="1.7"/><rect x="424.1" y="111.1" width="2.0" height="1.7"/><rect x="429.9" y="111.1" width="3.2" height="1.7"/><rect x="432.8" y="111.1" width="2.0" height="1.7"/><rect x="435.7" y="111.1" width="2.0" height="1.7"/><rect x="438.6" y="111.1" width="2.0" height="1.7"/><rect x="418.3" y="113.9" width="3.2" height="1.7"/><rect x="421.2" y="113.9" width="3.2" height="1.7"/><rect x="429.9" y="113.9" width="3.2" height="1.7"/><rect x="432.8" y="113.9" width="2.0" height="1.7"/><rect x="435.7" y="113.9" width="2.0" height="1.7"/><rect x="438.6" y="113.9" width="2.0" height="1.7"/></g></g><g><path d="M443 117 V97.0 A12.0 10.8 0 0 1 467 97.0 V117 Z" opacity="0.19"/><g opacity="0.88"><rect x="449.6" y="87.5" width="3.2" height="1.7"/><rect x="452.5" y="87.5" width="2.0" height="1.7"/><rect x="455.4" y="87.5" width="2.0" height="1.7"/><rect x="446.7" y="90.2" width="2.0" height="1.7"/><rect x="449.6" y="90.2" width="3.2" height="1.7"/><rect x="452.5" y="90.2" width="2.0" height="1.7"/><rect x="455.4" y="90.2" width="3.2" height="1.7"/><rect x="458.3" y="90.2" width="3.2" height="1.7"/><rect x="461.2" y="90.2" width="3.2" height="1.7"/><rect x="443.8" y="93.0" width="3.2" height="1.7"/><rect x="446.7" y="93.0" width="3.2" height="1.7"/><rect x="449.6" y="93.0" width="2.0" height="1.7"/><rect x="452.5" y="93.0" width="2.0" height="1.7"/><rect x="455.4" y="93.0" width="3.2" height="1.7"/><rect x="458.3" y="93.0" width="2.0" height="1.7"/><rect x="461.2" y="93.0" width="2.0" height="1.7"/><rect x="464.1" y="93.0" width="2.6" height="1.7"/><rect x="443.8" y="95.8" width="2.0" height="1.7"/><rect x="446.7" y="95.8" width="3.2" height="1.7"/><rect x="449.6" y="95.8" width="3.2" height="1.7"/><rect x="452.5" y="95.8" width="3.2" height="1.7"/><rect x="455.4" y="95.8" width="2.0" height="1.7"/><rect x="458.3" y="95.8" width="2.0" height="1.7"/><rect x="461.2" y="95.8" width="2.0" height="1.7"/><rect x="464.1" y="95.8" width="2.0" height="1.7"/><rect x="443.8" y="98.6" width="2.0" height="1.7"/><rect x="449.6" y="98.6" width="3.2" height="1.7"/><rect x="452.5" y="98.6" width="3.2" height="1.7"/><rect x="455.4" y="98.6" width="3.2" height="1.7"/><rect x="458.3" y="98.6" width="3.2" height="1.7"/><rect x="461.2" y="98.6" width="2.0" height="1.7"/><rect x="464.1" y="98.6" width="2.0" height="1.7"/><rect x="443.8" y="101.4" width="3.2" height="1.7"/><rect x="449.6" y="101.4" width="2.0" height="1.7"/><rect x="452.5" y="101.4" width="3.2" height="1.7"/><rect x="455.4" y="101.4" width="3.2" height="1.7"/><rect x="458.3" y="101.4" width="3.2" height="1.7"/><rect x="461.2" y="101.4" width="3.2" height="1.7"/><rect x="446.7" y="104.2" width="2.0" height="1.7"/><rect x="449.6" y="104.2" width="2.0" height="1.7"/><rect x="452.5" y="104.2" width="3.2" height="1.7"/><rect x="455.4" y="104.2" width="3.2" height="1.7"/><rect x="458.3" y="104.2" width="2.0" height="1.7"/><rect x="461.2" y="104.2" width="3.2" height="1.7"/><rect x="464.1" y="104.2" width="2.0" height="1.7"/><rect x="443.8" y="107.0" width="3.2" height="1.7"/><rect x="446.7" y="107.0" width="2.0" height="1.7"/><rect x="449.6" y="107.0" width="3.2" height="1.7"/><rect x="452.5" y="107.0" width="2.0" height="1.7"/><rect x="458.3" y="107.0" width="2.0" height="1.7"/><rect x="461.2" y="107.0" width="3.2" height="1.7"/><rect x="464.1" y="107.0" width="2.6" height="1.7"/><rect x="443.8" y="109.8" width="3.2" height="1.7"/><rect x="446.7" y="109.8" width="2.0" height="1.7"/><rect x="449.6" y="109.8" width="3.2" height="1.7"/><rect x="455.4" y="109.8" width="3.2" height="1.7"/><rect x="458.3" y="109.8" width="3.2" height="1.7"/><rect x="461.2" y="109.8" width="3.2" height="1.7"/><rect x="464.1" y="109.8" width="2.0" height="1.7"/><rect x="443.8" y="112.6" width="2.0" height="1.7"/><rect x="446.7" y="112.6" width="3.2" height="1.7"/><rect x="449.6" y="112.6" width="2.0" height="1.7"/><rect x="452.5" y="112.6" width="2.0" height="1.7"/><rect x="455.4" y="112.6" width="3.2" height="1.7"/><rect x="458.3" y="112.6" width="2.0" height="1.7"/><rect x="461.2" y="112.6" width="3.2" height="1.7"/><rect x="464.1" y="112.6" width="2.0" height="1.7"/><rect x="446.7" y="115.4" width="2.0" height="1.7"/><rect x="449.6" y="115.4" width="2.0" height="1.7"/><rect x="452.5" y="115.4" width="2.0" height="1.7"/><rect x="458.3" y="115.4" width="2.0" height="1.7"/><rect x="461.2" y="115.4" width="2.0" height="1.7"/><rect x="464.1" y="115.4" width="2.6" height="1.7"/></g></g><g><path d="M467 117 V77.8 A22.0 5.3 0 0 1 511 77.8 V117 Z" opacity="0.21"/><g opacity="0.95"><rect x="479.4" y="73.7" width="3.2" height="1.7"/><rect x="482.3" y="73.7" width="3.2" height="1.7"/><rect x="488.1" y="73.7" width="2.0" height="1.7"/><rect x="491.0" y="73.7" width="2.0" height="1.7"/><rect x="493.9" y="73.7" width="2.0" height="1.7"/><rect x="496.8" y="73.7" width="3.2" height="1.7"/><rect x="499.7" y="73.7" width="3.2" height="1.7"/><rect x="467.8" y="76.5" width="2.0" height="1.7"/><rect x="470.7" y="76.5" width="3.2" height="1.7"/><rect x="473.6" y="76.5" width="2.0" height="1.7"/><rect x="476.5" y="76.5" width="3.2" height="1.7"/><rect x="479.4" y="76.5" width="2.0" height="1.7"/><rect x="482.3" y="76.5" width="3.2" height="1.7"/><rect x="485.2" y="76.5" width="3.2" height="1.7"/><rect x="488.1" y="76.5" width="2.0" height="1.7"/><rect x="491.0" y="76.5" width="2.0" height="1.7"/><rect x="493.9" y="76.5" width="2.0" height="1.7"/><rect x="496.8" y="76.5" width="2.0" height="1.7"/><rect x="499.7" y="76.5" width="2.0" height="1.7"/><rect x="505.5" y="76.5" width="3.2" height="1.7"/><rect x="508.4" y="76.5" width="2.0" height="1.7"/><rect x="467.8" y="79.3" width="3.2" height="1.7"/><rect x="470.7" y="79.3" width="3.2" height="1.7"/><rect x="473.6" y="79.3" width="2.0" height="1.7"/><rect x="479.4" y="79.3" width="3.2" height="1.7"/><rect x="482.3" y="79.3" width="2.0" height="1.7"/><rect x="485.2" y="79.3" width="2.0" height="1.7"/><rect x="488.1" y="79.3" width="2.0" height="1.7"/><rect x="493.9" y="79.3" width="3.2" height="1.7"/><rect x="496.8" y="79.3" width="2.0" height="1.7"/><rect x="499.7" y="79.3" width="2.0" height="1.7"/><rect x="505.5" y="79.3" width="2.0" height="1.7"/><rect x="508.4" y="79.3" width="2.3" height="1.7"/><rect x="470.7" y="82.1" width="2.0" height="1.7"/><rect x="473.6" y="82.1" width="3.2" height="1.7"/><rect x="476.5" y="82.1" width="2.0" height="1.7"/><rect x="479.4" y="82.1" width="3.2" height="1.7"/><rect x="482.3" y="82.1" width="2.0" height="1.7"/><rect x="491.0" y="82.1" width="3.2" height="1.7"/><rect x="493.9" y="82.1" width="2.0" height="1.7"/><rect x="496.8" y="82.1" width="2.0" height="1.7"/><rect x="499.7" y="82.1" width="3.2" height="1.7"/><rect x="467.8" y="84.9" width="3.2" height="1.7"/><rect x="470.7" y="84.9" width="3.2" height="1.7"/><rect x="476.5" y="84.9" width="2.0" height="1.7"/><rect x="479.4" y="84.9" width="3.2" height="1.7"/><rect x="482.3" y="84.9" width="3.2" height="1.7"/><rect x="485.2" y="84.9" width="2.0" height="1.7"/><rect x="488.1" y="84.9" width="2.0" height="1.7"/><rect x="491.0" y="84.9" width="2.0" height="1.7"/><rect x="493.9" y="84.9" width="3.2" height="1.7"/><rect x="496.8" y="84.9" width="3.2" height="1.7"/><rect x="499.7" y="84.9" width="3.2" height="1.7"/><rect x="502.6" y="84.9" width="3.2" height="1.7"/><rect x="505.5" y="84.9" width="2.0" height="1.7"/><rect x="508.4" y="84.9" width="2.3" height="1.7"/><rect x="473.6" y="87.7" width="2.0" height="1.7"/><rect x="476.5" y="87.7" width="2.0" height="1.7"/><rect x="479.4" y="87.7" width="3.2" height="1.7"/><rect x="482.3" y="87.7" width="2.0" height="1.7"/><rect x="485.2" y="87.7" width="2.0" height="1.7"/><rect x="488.1" y="87.7" width="2.0" height="1.7"/><rect x="491.0" y="87.7" width="2.0" height="1.7"/><rect x="493.9" y="87.7" width="2.0" height="1.7"/><rect x="496.8" y="87.7" width="2.0" height="1.7"/><rect x="499.7" y="87.7" width="2.0" height="1.7"/><rect x="502.6" y="87.7" width="2.0" height="1.7"/><rect x="508.4" y="87.7" width="2.3" height="1.7"/><rect x="467.8" y="90.5" width="3.2" height="1.7"/><rect x="470.7" y="90.5" width="2.0" height="1.7"/><rect x="473.6" y="90.5" width="3.2" height="1.7"/><rect x="479.4" y="90.5" width="2.0" height="1.7"/><rect x="482.3" y="90.5" width="3.2" height="1.7"/><rect x="485.2" y="90.5" width="3.2" height="1.7"/><rect x="488.1" y="90.5" width="2.0" height="1.7"/><rect x="491.0" y="90.5" width="2.0" height="1.7"/><rect x="493.9" y="90.5" width="3.2" height="1.7"/><rect x="496.8" y="90.5" width="3.2" height="1.7"/><rect x="499.7" y="90.5" width="2.0" height="1.7"/><rect x="502.6" y="90.5" width="2.0" height="1.7"/><rect x="505.5" y="90.5" width="3.2" height="1.7"/><rect x="508.4" y="90.5" width="2.0" height="1.7"/><rect x="467.8" y="93.3" width="3.2" height="1.7"/><rect x="473.6" y="93.3" width="2.0" height="1.7"/><rect x="479.4" y="93.3" width="2.0" height="1.7"/><rect x="482.3" y="93.3" width="2.0" height="1.7"/><rect x="485.2" y="93.3" width="2.0" height="1.7"/><rect x="488.1" y="93.3" width="2.0" height="1.7"/><rect x="491.0" y="93.3" width="2.0" height="1.7"/><rect x="493.9" y="93.3" width="3.2" height="1.7"/><rect x="496.8" y="93.3" width="2.0" height="1.7"/><rect x="499.7" y="93.3" width="2.0" height="1.7"/><rect x="502.6" y="93.3" width="2.0" height="1.7"/><rect x="505.5" y="93.3" width="2.0" height="1.7"/><rect x="508.4" y="93.3" width="2.0" height="1.7"/><rect x="467.8" y="96.1" width="2.0" height="1.7"/><rect x="470.7" y="96.1" width="2.0" height="1.7"/><rect x="476.5" y="96.1" width="2.0" height="1.7"/><rect x="482.3" y="96.1" width="2.0" height="1.7"/><rect x="485.2" y="96.1" width="2.0" height="1.7"/><rect x="488.1" y="96.1" width="2.0" height="1.7"/><rect x="491.0" y="96.1" width="2.0" height="1.7"/><rect x="493.9" y="96.1" width="3.2" height="1.7"/><rect x="496.8" y="96.1" width="2.0" height="1.7"/><rect x="499.7" y="96.1" width="2.0" height="1.7"/><rect x="502.6" y="96.1" width="2.0" height="1.7"/><rect x="508.4" y="96.1" width="2.0" height="1.7"/><rect x="467.8" y="98.9" width="2.0" height="1.7"/><rect x="473.6" y="98.9" width="2.0" height="1.7"/><rect x="476.5" y="98.9" width="3.2" height="1.7"/><rect x="479.4" y="98.9" width="3.2" height="1.7"/><rect x="482.3" y="98.9" width="3.2" height="1.7"/><rect x="485.2" y="98.9" width="3.2" height="1.7"/><rect x="488.1" y="98.9" width="3.2" height="1.7"/><rect x="491.0" y="98.9" width="2.0" height="1.7"/><rect x="496.8" y="98.9" width="2.0" height="1.7"/><rect x="499.7" y="98.9" width="3.2" height="1.7"/><rect x="502.6" y="98.9" width="3.2" height="1.7"/><rect x="467.8" y="101.7" width="3.2" height="1.7"/><rect x="470.7" y="101.7" width="3.2" height="1.7"/><rect x="473.6" y="101.7" width="2.0" height="1.7"/><rect x="476.5" y="101.7" width="2.0" height="1.7"/><rect x="479.4" y="101.7" width="3.2" height="1.7"/><rect x="482.3" y="101.7" width="2.0" height="1.7"/><rect x="485.2" y="101.7" width="3.2" height="1.7"/><rect x="488.1" y="101.7" width="2.0" height="1.7"/><rect x="491.0" y="101.7" width="2.0" height="1.7"/><rect x="496.8" y="101.7" width="3.2" height="1.7"/><rect x="499.7" y="101.7" width="2.0" height="1.7"/><rect x="502.6" y="101.7" width="3.2" height="1.7"/><rect x="505.5" y="101.7" width="3.2" height="1.7"/><rect x="508.4" y="101.7" width="2.0" height="1.7"/><rect x="467.8" y="104.5" width="2.0" height="1.7"/><rect x="470.7" y="104.5" width="3.2" height="1.7"/><rect x="473.6" y="104.5" width="3.2" height="1.7"/><rect x="476.5" y="104.5" width="3.2" height="1.7"/><rect x="479.4" y="104.5" width="3.2" height="1.7"/><rect x="482.3" y="104.5" width="2.0" height="1.7"/><rect x="485.2" y="104.5" width="2.0" height="1.7"/><rect x="488.1" y="104.5" width="2.0" height="1.7"/><rect x="491.0" y="104.5" width="2.0" height="1.7"/><rect x="493.9" y="104.5" width="2.0" height="1.7"/><rect x="496.8" y="104.5" width="2.0" height="1.7"/><rect x="499.7" y="104.5" width="2.0" height="1.7"/><rect x="505.5" y="104.5" width="3.2" height="1.7"/><rect x="508.4" y="104.5" width="2.0" height="1.7"/><rect x="467.8" y="107.3" width="2.0" height="1.7"/><rect x="470.7" y="107.3" width="2.0" height="1.7"/><rect x="473.6" y="107.3" width="2.0" height="1.7"/><rect x="476.5" y="107.3" width="2.0" height="1.7"/><rect x="479.4" y="107.3" width="2.0" height="1.7"/><rect x="488.1" y="107.3" width="2.0" height="1.7"/><rect x="491.0" y="107.3" width="3.2" height="1.7"/><rect x="493.9" y="107.3" width="2.0" height="1.7"/><rect x="496.8" y="107.3" width="2.0" height="1.7"/><rect x="499.7" y="107.3" width="2.0" height="1.7"/><rect x="502.6" y="107.3" width="2.0" height="1.7"/><rect x="505.5" y="107.3" width="3.2" height="1.7"/><rect x="508.4" y="107.3" width="2.3" height="1.7"/><rect x="467.8" y="110.1" width="3.2" height="1.7"/><rect x="470.7" y="110.1" width="2.0" height="1.7"/><rect x="473.6" y="110.1" width="3.2" height="1.7"/><rect x="476.5" y="110.1" width="3.2" height="1.7"/><rect x="479.4" y="110.1" width="3.2" height="1.7"/><rect x="485.2" y="110.1" width="2.0" height="1.7"/><rect x="491.0" y="110.1" width="2.0" height="1.7"/><rect x="496.8" y="110.1" width="2.0" height="1.7"/><rect x="499.7" y="110.1" width="2.0" height="1.7"/><rect x="502.6" y="110.1" width="2.0" height="1.7"/><rect x="505.5" y="110.1" width="2.0" height="1.7"/><rect x="508.4" y="110.1" width="2.0" height="1.7"/><rect x="467.8" y="112.9" width="2.0" height="1.7"/><rect x="470.7" y="112.9" width="2.0" height="1.7"/><rect x="476.5" y="112.9" width="3.2" height="1.7"/><rect x="482.3" y="112.9" width="2.0" height="1.7"/><rect x="485.2" y="112.9" width="2.0" height="1.7"/><rect x="488.1" y="112.9" width="3.2" height="1.7"/><rect x="491.0" y="112.9" width="2.0" height="1.7"/><rect x="493.9" y="112.9" width="3.2" height="1.7"/><rect x="496.8" y="112.9" width="3.2" height="1.7"/><rect x="499.7" y="112.9" width="2.0" height="1.7"/><rect x="502.6" y="112.9" width="3.2" height="1.7"/><rect x="508.4" y="112.9" width="2.0" height="1.7"/><rect x="467.8" y="115.7" width="2.0" height="1.7"/><rect x="473.6" y="115.7" width="3.2" height="1.7"/><rect x="476.5" y="115.7" width="2.0" height="1.7"/><rect x="482.3" y="115.7" width="2.0" height="1.7"/><rect x="485.2" y="115.7" width="3.2" height="1.7"/><rect x="488.1" y="115.7" width="3.2" height="1.7"/><rect x="491.0" y="115.7" width="3.2" height="1.7"/><rect x="493.9" y="115.7" width="2.0" height="1.7"/><rect x="496.8" y="115.7" width="3.2" height="1.7"/><rect x="499.7" y="115.7" width="3.2" height="1.7"/><rect x="502.6" y="115.7" width="2.0" height="1.7"/><rect x="505.5" y="115.7" width="2.0" height="1.7"/><rect x="508.4" y="115.7" width="2.0" height="1.7"/></g></g><g><path d="M512 117 V95.0 A14.0 0.0 0 0 1 540 95.0 V117 Z" opacity="0.19"/><g opacity="0.88"><rect x="512.8" y="96.2" width="2.0" height="1.7"/><rect x="515.7" y="96.2" width="3.2" height="1.7"/><rect x="518.6" y="96.2" width="2.0" height="1.7"/><rect x="521.5" y="96.2" width="2.0" height="1.7"/><rect x="524.4" y="96.2" width="3.2" height="1.7"/><rect x="527.3" y="96.2" width="2.0" height="1.7"/><rect x="530.2" y="96.2" width="2.0" height="1.7"/><rect x="533.1" y="96.2" width="3.2" height="1.7"/><rect x="524.4" y="99.0" width="2.0" height="1.7"/><rect x="527.3" y="99.0" width="3.2" height="1.7"/><rect x="530.2" y="99.0" width="3.2" height="1.7"/><rect x="536.0" y="99.0" width="2.0" height="1.7"/><rect x="515.7" y="101.8" width="2.0" height="1.7"/><rect x="524.4" y="101.8" width="2.0" height="1.7"/><rect x="527.3" y="101.8" width="3.2" height="1.7"/><rect x="530.2" y="101.8" width="2.0" height="1.7"/><rect x="533.1" y="101.8" width="3.2" height="1.7"/><rect x="536.0" y="101.8" width="2.0" height="1.7"/><rect x="512.8" y="104.6" width="3.2" height="1.7"/><rect x="515.7" y="104.6" width="2.0" height="1.7"/><rect x="518.6" y="104.6" width="2.0" height="1.7"/><rect x="521.5" y="104.6" width="3.2" height="1.7"/><rect x="524.4" y="104.6" width="2.0" height="1.7"/><rect x="527.3" y="104.6" width="2.0" height="1.7"/><rect x="530.2" y="104.6" width="2.0" height="1.7"/><rect x="533.1" y="104.6" width="3.2" height="1.7"/><rect x="536.0" y="104.6" width="2.0" height="1.7"/><rect x="512.8" y="107.4" width="2.0" height="1.7"/><rect x="515.7" y="107.4" width="2.0" height="1.7"/><rect x="518.6" y="107.4" width="3.2" height="1.7"/><rect x="521.5" y="107.4" width="2.0" height="1.7"/><rect x="524.4" y="107.4" width="3.2" height="1.7"/><rect x="527.3" y="107.4" width="2.0" height="1.7"/><rect x="530.2" y="107.4" width="2.0" height="1.7"/><rect x="533.1" y="107.4" width="3.2" height="1.7"/><rect x="536.0" y="107.4" width="2.0" height="1.7"/><rect x="512.8" y="110.2" width="3.2" height="1.7"/><rect x="515.7" y="110.2" width="2.0" height="1.7"/><rect x="518.6" y="110.2" width="3.2" height="1.7"/><rect x="521.5" y="110.2" width="2.0" height="1.7"/><rect x="530.2" y="110.2" width="2.0" height="1.7"/><rect x="533.1" y="110.2" width="3.2" height="1.7"/><rect x="536.0" y="110.2" width="3.2" height="1.7"/><rect x="512.8" y="113.0" width="2.0" height="1.7"/><rect x="515.7" y="113.0" width="3.2" height="1.7"/><rect x="518.6" y="113.0" width="3.2" height="1.7"/><rect x="521.5" y="113.0" width="2.0" height="1.7"/><rect x="524.4" y="113.0" width="2.0" height="1.7"/><rect x="530.2" y="113.0" width="2.0" height="1.7"/><rect x="515.7" y="115.8" width="3.2" height="1.7"/><rect x="518.6" y="115.8" width="3.2" height="1.7"/><rect x="524.4" y="115.8" width="2.0" height="1.7"/><rect x="527.3" y="115.8" width="3.2" height="1.7"/><rect x="530.2" y="115.8" width="3.2" height="1.7"/><rect x="533.1" y="115.8" width="2.0" height="1.7"/><rect x="536.0" y="115.8" width="2.0" height="1.7"/></g></g><g><path d="M541 117 V97.0 A14.5 0.0 0 0 1 570 97.0 V117 Z" opacity="0.16"/><g opacity="0.72"><rect x="544.7" y="98.2" width="2.0" height="1.7"/><rect x="547.6" y="98.2" width="2.0" height="1.7"/><rect x="550.5" y="98.2" width="2.0" height="1.7"/><rect x="553.4" y="98.2" width="2.0" height="1.7"/><rect x="556.3" y="98.2" width="2.0" height="1.7"/><rect x="559.2" y="98.2" width="2.0" height="1.7"/><rect x="565.0" y="98.2" width="2.0" height="1.7"/><rect x="567.9" y="98.2" width="1.8" height="1.7"/><rect x="541.8" y="101.0" width="3.2" height="1.7"/><rect x="544.7" y="101.0" width="2.0" height="1.7"/><rect x="547.6" y="101.0" width="2.0" height="1.7"/><rect x="550.5" y="101.0" width="3.2" height="1.7"/><rect x="556.3" y="101.0" width="3.2" height="1.7"/><rect x="559.2" y="101.0" width="2.0" height="1.7"/><rect x="562.1" y="101.0" width="3.2" height="1.7"/><rect x="567.9" y="101.0" width="1.8" height="1.7"/><rect x="541.8" y="103.8" width="2.0" height="1.7"/><rect x="544.7" y="103.8" width="2.0" height="1.7"/><rect x="547.6" y="103.8" width="2.0" height="1.7"/><rect x="550.5" y="103.8" width="2.0" height="1.7"/><rect x="553.4" y="103.8" width="2.0" height="1.7"/><rect x="556.3" y="103.8" width="2.0" height="1.7"/><rect x="559.2" y="103.8" width="2.0" height="1.7"/><rect x="562.1" y="103.8" width="2.0" height="1.7"/><rect x="565.0" y="103.8" width="3.2" height="1.7"/><rect x="567.9" y="103.8" width="1.8" height="1.7"/><rect x="541.8" y="106.6" width="2.0" height="1.7"/><rect x="544.7" y="106.6" width="3.2" height="1.7"/><rect x="547.6" y="106.6" width="2.0" height="1.7"/><rect x="550.5" y="106.6" width="2.0" height="1.7"/><rect x="553.4" y="106.6" width="3.2" height="1.7"/><rect x="556.3" y="106.6" width="3.2" height="1.7"/><rect x="565.0" y="106.6" width="2.0" height="1.7"/><rect x="541.8" y="109.4" width="2.0" height="1.7"/><rect x="544.7" y="109.4" width="2.0" height="1.7"/><rect x="547.6" y="109.4" width="2.0" height="1.7"/><rect x="553.4" y="109.4" width="2.0" height="1.7"/><rect x="556.3" y="109.4" width="2.0" height="1.7"/><rect x="559.2" y="109.4" width="2.0" height="1.7"/><rect x="565.0" y="109.4" width="2.0" height="1.7"/><rect x="567.9" y="109.4" width="1.8" height="1.7"/><rect x="541.8" y="112.2" width="2.0" height="1.7"/><rect x="544.7" y="112.2" width="2.0" height="1.7"/><rect x="547.6" y="112.2" width="2.0" height="1.7"/><rect x="550.5" y="112.2" width="3.2" height="1.7"/><rect x="556.3" y="112.2" width="2.0" height="1.7"/><rect x="559.2" y="112.2" width="3.2" height="1.7"/><rect x="562.1" y="112.2" width="3.2" height="1.7"/><rect x="565.0" y="112.2" width="2.0" height="1.7"/><rect x="541.8" y="115.0" width="2.0" height="1.7"/><rect x="544.7" y="115.0" width="3.2" height="1.7"/><rect x="547.6" y="115.0" width="2.0" height="1.7"/><rect x="550.5" y="115.0" width="3.2" height="1.7"/><rect x="553.4" y="115.0" width="2.0" height="1.7"/><rect x="556.3" y="115.0" width="2.0" height="1.7"/><rect x="559.2" y="115.0" width="3.2" height="1.7"/><rect x="567.9" y="115.0" width="1.8" height="1.7"/></g></g><g><path d="M570 117 V88.3 A13.8 3.3 0 0 1 597.5 88.3 V117 Z" opacity="0.15"/><g opacity="0.7"><rect x="573.7" y="86.2" width="3.2" height="1.7"/><rect x="576.6" y="86.2" width="2.0" height="1.7"/><rect x="579.5" y="86.2" width="2.0" height="1.7"/><rect x="582.4" y="86.2" width="3.2" height="1.7"/><rect x="585.3" y="86.2" width="2.0" height="1.7"/><rect x="588.2" y="86.2" width="3.2" height="1.7"/><rect x="591.1" y="86.2" width="3.2" height="1.7"/><rect x="573.7" y="89.0" width="2.0" height="1.7"/><rect x="576.6" y="89.0" width="2.0" height="1.7"/><rect x="585.3" y="89.0" width="2.0" height="1.7"/><rect x="588.2" y="89.0" width="3.2" height="1.7"/><rect x="594.0" y="89.0" width="2.0" height="1.7"/><rect x="570.8" y="91.8" width="2.0" height="1.7"/><rect x="576.6" y="91.8" width="3.2" height="1.7"/><rect x="582.4" y="91.8" width="3.2" height="1.7"/><rect x="585.3" y="91.8" width="2.0" height="1.7"/><rect x="588.2" y="91.8" width="2.0" height="1.7"/><rect x="591.1" y="91.8" width="2.0" height="1.7"/><rect x="594.0" y="91.8" width="2.0" height="1.7"/><rect x="570.8" y="94.6" width="3.2" height="1.7"/><rect x="573.7" y="94.6" width="2.0" height="1.7"/><rect x="576.6" y="94.6" width="2.0" height="1.7"/><rect x="579.5" y="94.6" width="3.2" height="1.7"/><rect x="582.4" y="94.6" width="3.2" height="1.7"/><rect x="585.3" y="94.6" width="3.2" height="1.7"/><rect x="591.1" y="94.6" width="3.2" height="1.7"/><rect x="594.0" y="94.6" width="3.2" height="1.7"/><rect x="570.8" y="97.4" width="2.0" height="1.7"/><rect x="573.7" y="97.4" width="2.0" height="1.7"/><rect x="576.6" y="97.4" width="2.0" height="1.7"/><rect x="582.4" y="97.4" width="2.0" height="1.7"/><rect x="585.3" y="97.4" width="2.0" height="1.7"/><rect x="588.2" y="97.4" width="2.0" height="1.7"/><rect x="591.1" y="97.4" width="2.0" height="1.7"/><rect x="594.0" y="97.4" width="2.0" height="1.7"/><rect x="570.8" y="100.2" width="2.0" height="1.7"/><rect x="576.6" y="100.2" width="2.0" height="1.7"/><rect x="579.5" y="100.2" width="2.0" height="1.7"/><rect x="582.4" y="100.2" width="3.2" height="1.7"/><rect x="585.3" y="100.2" width="2.0" height="1.7"/><rect x="588.2" y="100.2" width="3.2" height="1.7"/><rect x="591.1" y="100.2" width="3.2" height="1.7"/><rect x="573.7" y="103.0" width="2.0" height="1.7"/><rect x="579.5" y="103.0" width="2.0" height="1.7"/><rect x="582.4" y="103.0" width="2.0" height="1.7"/><rect x="585.3" y="103.0" width="2.0" height="1.7"/><rect x="588.2" y="103.0" width="3.2" height="1.7"/><rect x="591.1" y="103.0" width="2.0" height="1.7"/><rect x="594.0" y="103.0" width="3.2" height="1.7"/><rect x="570.8" y="105.8" width="2.0" height="1.7"/><rect x="573.7" y="105.8" width="2.0" height="1.7"/><rect x="576.6" y="105.8" width="3.2" height="1.7"/><rect x="582.4" y="105.8" width="2.0" height="1.7"/><rect x="585.3" y="105.8" width="3.2" height="1.7"/><rect x="588.2" y="105.8" width="2.0" height="1.7"/><rect x="591.1" y="105.8" width="2.0" height="1.7"/><rect x="594.0" y="105.8" width="2.0" height="1.7"/><rect x="570.8" y="108.6" width="3.2" height="1.7"/><rect x="573.7" y="108.6" width="2.0" height="1.7"/><rect x="576.6" y="108.6" width="2.0" height="1.7"/><rect x="579.5" y="108.6" width="2.0" height="1.7"/><rect x="582.4" y="108.6" width="2.0" height="1.7"/><rect x="585.3" y="108.6" width="2.0" height="1.7"/><rect x="588.2" y="108.6" width="3.2" height="1.7"/><rect x="594.0" y="108.6" width="2.0" height="1.7"/><rect x="570.8" y="111.4" width="3.2" height="1.7"/><rect x="573.7" y="111.4" width="2.0" height="1.7"/><rect x="576.6" y="111.4" width="3.2" height="1.7"/><rect x="579.5" y="111.4" width="2.0" height="1.7"/><rect x="582.4" y="111.4" width="3.2" height="1.7"/><rect x="585.3" y="111.4" width="3.2" height="1.7"/><rect x="588.2" y="111.4" width="2.0" height="1.7"/><rect x="591.1" y="111.4" width="2.0" height="1.7"/><rect x="594.0" y="111.4" width="2.0" height="1.7"/><rect x="570.8" y="114.2" width="2.0" height="1.7"/><rect x="573.7" y="114.2" width="3.2" height="1.7"/><rect x="576.6" y="114.2" width="2.0" height="1.7"/><rect x="582.4" y="114.2" width="2.0" height="1.7"/><rect x="591.1" y="114.2" width="2.0" height="1.7"/><rect x="594.0" y="114.2" width="3.2" height="1.7"/></g></g><g><path d="M597.5 117 V106.4 A14.2 3.4 0 0 1 626 106.4 V117 Z" opacity="0.11"/><g opacity="0.5"><rect x="601.2" y="104.2" width="3.2" height="1.7"/><rect x="607.0" y="104.2" width="3.2" height="1.7"/><rect x="609.9" y="104.2" width="3.2" height="1.7"/><rect x="612.8" y="104.2" width="3.2" height="1.7"/><rect x="615.7" y="104.2" width="3.2" height="1.7"/><rect x="618.6" y="104.2" width="3.2" height="1.7"/><rect x="621.5" y="104.2" width="2.0" height="1.7"/><rect x="598.3" y="107.0" width="2.0" height="1.7"/><rect x="601.2" y="107.0" width="2.0" height="1.7"/><rect x="604.1" y="107.0" width="3.2" height="1.7"/><rect x="607.0" y="107.0" width="3.2" height="1.7"/><rect x="609.9" y="107.0" width="2.0" height="1.7"/><rect x="612.8" y="107.0" width="3.2" height="1.7"/><rect x="615.7" y="107.0" width="2.0" height="1.7"/><rect x="618.6" y="107.0" width="3.2" height="1.7"/><rect x="621.5" y="107.0" width="2.0" height="1.7"/><rect x="624.4" y="107.0" width="1.3" height="1.7"/><rect x="598.3" y="109.8" width="2.0" height="1.7"/><rect x="604.1" y="109.8" width="3.2" height="1.7"/><rect x="607.0" y="109.8" width="3.2" height="1.7"/><rect x="612.8" y="109.8" width="2.0" height="1.7"/><rect x="615.7" y="109.8" width="2.0" height="1.7"/><rect x="618.6" y="109.8" width="3.2" height="1.7"/><rect x="624.4" y="109.8" width="1.3" height="1.7"/><rect x="598.3" y="112.6" width="2.0" height="1.7"/><rect x="601.2" y="112.6" width="3.2" height="1.7"/><rect x="604.1" y="112.6" width="2.0" height="1.7"/><rect x="609.9" y="112.6" width="3.2" height="1.7"/><rect x="612.8" y="112.6" width="3.2" height="1.7"/><rect x="615.7" y="112.6" width="2.0" height="1.7"/><rect x="618.6" y="112.6" width="3.2" height="1.7"/><rect x="621.5" y="112.6" width="2.0" height="1.7"/><rect x="624.4" y="112.6" width="1.3" height="1.7"/><rect x="598.3" y="115.4" width="2.0" height="1.7"/><rect x="601.2" y="115.4" width="3.2" height="1.7"/><rect x="604.1" y="115.4" width="2.0" height="1.7"/><rect x="612.8" y="115.4" width="2.0" height="1.7"/><rect x="615.7" y="115.4" width="2.0" height="1.7"/><rect x="618.6" y="115.4" width="3.2" height="1.7"/><rect x="621.5" y="115.4" width="2.0" height="1.7"/><rect x="624.4" y="115.4" width="1.3" height="1.7"/></g></g><rect x="130.5" y="85" width="2" height="4.75" opacity="0.9"/><rect x="170.5" y="90.6" width="2" height="7.300000000000011" opacity="0.9"/><rect x="453" y="82" width="2" height="5.25" opacity="0.9"/></g></g>
<use href="#sky" x="640"/>
<g font-family="Liberation Sans" font-weight="bold" font-size="36" fill="#ffffff"><text x="27.5" y="67" letter-spacing="0.44">SMART</text><text x="164.1" y="67" letter-spacing="0.04">AIR</text><text x="235.5" y="67" letter-spacing="-1.09">PURIFIER</text><text x="402.0" y="67" letter-spacing="-0.39">MANUFACTURING</text><text x="726.3" y="67" letter-spacing="-0.05">PLANT</text><text x="854.3" y="67" letter-spacing="-0.86">PROJECT</text><text x="1027.0" y="67" letter-spacing="-1.2">REPORT</text></g>

<!-- LEFT: market -->
<g font-family="Liberation Sans" font-weight="bold" font-size="32.5" fill="#2e3e6c"><text x="117.8" y="170" letter-spacing="1.48">Market</text><text x="239.5" y="170" letter-spacing="0.5">Opportunity</text><text x="440.1" y="170" letter-spacing="-0.35">(US$)</text></g>
<g fill="#fcf8fc" stroke="#fcf8fc" stroke-width="6.5"><path d="M27 194.6 H213.9 a3.5 3.5 0 0 1 3.5 3.5 V212.5 a3.5 3.5 0 0 1 -3.5 3.5 H27 Z"/><path d="M27 222.6 H237.8 a3.5 3.5 0 0 1 3.5 3.5 V240.5 a3.5 3.5 0 0 1 -3.5 3.5 H27 Z"/><path d="M27 250.5 H274.5 a3.5 3.5 0 0 1 3.5 3.5 V268.4 a3.5 3.5 0 0 1 -3.5 3.5 H27 Z"/><path d="M27 279.8 H312.8 a3.5 3.5 0 0 1 3.5 3.5 V297.7 a3.5 3.5 0 0 1 -3.5 3.5 H27 Z"/><path d="M27 309.2 H348.6 a3.5 3.5 0 0 1 3.5 3.5 V327.1 a3.5 3.5 0 0 1 -3.5 3.5 H27 Z"/><path d="M27 337.2 H382.9 a3.5 3.5 0 0 1 3.5 3.5 V355.1 a3.5 3.5 0 0 1 -3.5 3.5 H27 Z"/></g><g fill="#9de9fc" stroke="#3b2572" stroke-width="2.8"><path d="M27 194.6 H213.9 a3.5 3.5 0 0 1 3.5 3.5 V212.5 a3.5 3.5 0 0 1 -3.5 3.5 H27 Z"/><path d="M27 222.6 H237.8 a3.5 3.5 0 0 1 3.5 3.5 V240.5 a3.5 3.5 0 0 1 -3.5 3.5 H27 Z"/><path d="M27 250.5 H274.5 a3.5 3.5 0 0 1 3.5 3.5 V268.4 a3.5 3.5 0 0 1 -3.5 3.5 H27 Z"/><path d="M27 279.8 H312.8 a3.5 3.5 0 0 1 3.5 3.5 V297.7 a3.5 3.5 0 0 1 -3.5 3.5 H27 Z"/><path d="M27 309.2 H348.6 a3.5 3.5 0 0 1 3.5 3.5 V327.1 a3.5 3.5 0 0 1 -3.5 3.5 H27 Z"/><path d="M27 337.2 H382.9 a3.5 3.5 0 0 1 3.5 3.5 V355.1 a3.5 3.5 0 0 1 -3.5 3.5 H27 Z"/></g>
<rect x="25" y="185" width="3" height="183" fill="#3b2572"/>
<g font-family="Liberation Sans" font-weight="bold" font-size="20.5" fill="#262626"><text x="366.4" y="224.6" letter-spacing="0.9">The</text><text x="408.6" y="224.6" letter-spacing="1.2">market</text><text x="485.8" y="224.6">is</text><text x="505.4" y="224.6" letter-spacing="0.53">exhibiting</text><text x="609.9" y="224.6">a</text></g>
<text x="366.5" y="269.6" font-family="Liberation Sans" font-weight="bold" font-size="34" fill="#2e3e6c" letter-spacing="-1.7">CONTINUOUS</text>
<g font-family="Liberation Sans" font-weight="bold" font-size="21" fill="#262626"><text x="366.5" y="301.8" letter-spacing="0.6">growth</text><text x="445" y="301.8" letter-spacing="0.3">rate</text></g>

<!-- dashed divider -->
<line x1="637.2" y1="149" x2="643.5" y2="689" stroke="#5a5a5a" stroke-width="1.8" stroke-dasharray="7.6 6.3"/>

<g font-family="Liberation Sans" font-weight="bold" font-size="20.5" fill="#2b2b2b"><text x="28.3" y="405.9" letter-spacing="0.6">Report</text><text x="100" y="405.9" letter-spacing="0.1">Coverage:</text></g>
<circle cx="316" cy="541" r="85" fill="none" stroke="#8c8c8c" stroke-width="1.4"/>
<path d="M317.90 476.53 A64.5 64.5 0 0 1 360.24 494.06 L352.70 502.07 A53.5 53.5 0 0 0 317.58 487.52 Z" fill="#1f84b3"/>
<path d="M362.94 496.76 A64.5 64.5 0 0 1 380.47 539.10 L369.48 539.42 A53.5 53.5 0 0 0 354.93 504.30 Z" fill="#7f9ab2"/>
<path d="M380.47 542.90 A64.5 64.5 0 0 1 362.94 585.24 L354.93 577.70 A53.5 53.5 0 0 0 369.48 542.58 Z" fill="#2246b6"/>
<path d="M360.24 587.94 A64.5 64.5 0 0 1 317.90 605.47 L317.58 594.48 A53.5 53.5 0 0 0 352.70 579.93 Z" fill="#3fdfca"/>
<path d="M314.10 605.47 A64.5 64.5 0 0 1 271.76 587.94 L279.30 579.93 A53.5 53.5 0 0 0 314.42 594.48 Z" fill="#1f84b3"/>
<path d="M269.06 585.24 A64.5 64.5 0 0 1 251.53 542.90 L262.52 542.58 A53.5 53.5 0 0 0 277.07 577.70 Z" fill="#7f9ab2"/>
<path d="M251.53 539.10 A64.5 64.5 0 0 1 269.06 496.76 L277.07 504.30 A53.5 53.5 0 0 0 262.52 539.42 Z" fill="#2246b6"/>
<path d="M271.76 494.06 A64.5 64.5 0 0 1 314.10 476.53 L314.42 487.52 A53.5 53.5 0 0 0 279.30 502.07 Z" fill="#3fdfca"/>
<circle cx="341.83" cy="478.64" r="0.85" fill="#2a2a2a"/>
<circle cx="342.98" cy="475.87" r="0.85" fill="#2a2a2a"/>
<circle cx="344.13" cy="473.09" r="0.85" fill="#2a2a2a"/>
<circle cx="348.53" cy="462.47" r="7.6" fill="#ffffff" stroke="#2b6c86" stroke-width="1.5"/>
<circle cx="348.53" cy="462.47" r="5.3" fill="#1f84b3"/>
<circle cx="378.36" cy="515.17" r="0.85" fill="#2a2a2a"/>
<circle cx="381.13" cy="514.02" r="0.85" fill="#2a2a2a"/>
<circle cx="383.91" cy="512.87" r="0.85" fill="#2a2a2a"/>
<circle cx="394.53" cy="508.47" r="7.6" fill="#ffffff" stroke="#8a8a8a" stroke-width="1.5"/>
<circle cx="394.53" cy="508.47" r="5.3" fill="#8e9aa6"/>
<circle cx="378.36" cy="566.83" r="0.85" fill="#2a2a2a"/>
<circle cx="381.13" cy="567.98" r="0.85" fill="#2a2a2a"/>
<circle cx="383.91" cy="569.13" r="0.85" fill="#2a2a2a"/>
<circle cx="394.53" cy="573.53" r="7.6" fill="#ffffff" stroke="#1c2f70" stroke-width="1.5"/>
<circle cx="394.53" cy="573.53" r="5.3" fill="#2348b3"/>
<circle cx="341.83" cy="603.36" r="0.85" fill="#2a2a2a"/>
<circle cx="342.98" cy="606.13" r="0.85" fill="#2a2a2a"/>
<circle cx="344.13" cy="608.91" r="0.85" fill="#2a2a2a"/>
<circle cx="348.53" cy="619.53" r="7.6" fill="#ffffff" stroke="#7fe3d6" stroke-width="1.5"/>
<circle cx="348.53" cy="619.53" r="5.3" fill="#55e0cc"/>
<circle cx="290.17" cy="603.36" r="0.85" fill="#2a2a2a"/>
<circle cx="289.02" cy="606.13" r="0.85" fill="#2a2a2a"/>
<circle cx="287.87" cy="608.91" r="0.85" fill="#2a2a2a"/>
<circle cx="283.47" cy="619.53" r="7.6" fill="#ffffff" stroke="#2b6c86" stroke-width="1.5"/>
<circle cx="283.47" cy="619.53" r="5.3" fill="#1f84b3"/>
<circle cx="253.64" cy="566.83" r="0.85" fill="#2a2a2a"/>
<circle cx="250.87" cy="567.98" r="0.85" fill="#2a2a2a"/>
<circle cx="248.09" cy="569.13" r="0.85" fill="#2a2a2a"/>
<circle cx="237.47" cy="573.53" r="7.6" fill="#ffffff" stroke="#8a8a8a" stroke-width="1.5"/>
<circle cx="237.47" cy="573.53" r="5.3" fill="#8e9aa6"/>
<circle cx="253.64" cy="515.17" r="0.85" fill="#2a2a2a"/>
<circle cx="250.87" cy="514.02" r="0.85" fill="#2a2a2a"/>
<circle cx="248.09" cy="512.87" r="0.85" fill="#2a2a2a"/>
<circle cx="237.47" cy="508.47" r="7.6" fill="#ffffff" stroke="#1c2f70" stroke-width="1.5"/>
<circle cx="237.47" cy="508.47" r="5.3" fill="#2348b3"/>
<circle cx="290.17" cy="478.64" r="0.85" fill="#2a2a2a"/>
<circle cx="289.02" cy="475.87" r="0.85" fill="#2a2a2a"/>
<circle cx="287.87" cy="473.09" r="0.85" fill="#2a2a2a"/>
<circle cx="283.47" cy="462.47" r="7.6" fill="#ffffff" stroke="#7fe3d6" stroke-width="1.5"/>
<circle cx="283.47" cy="462.47" r="5.3" fill="#55e0cc"/>
<g font-family="Liberation Sans" fill="#161a36" text-anchor="middle"><text x="316.5" y="533.8" font-size="15" font-weight="bold">BUSINESS</text><text x="316.2" y="550.8" font-size="15" font-weight="bold">MODEL</text><text x="315.6" y="565" font-size="10">CONCEPT</text></g>
<g font-family="Liberation Sans" font-size="9" fill="#1e1e24" text-anchor="middle"><text x="262.4" y="439.5">MANAGEMENT</text><text x="376.2" y="439.5">COSTS</text><text x="184.5" y="518.75">DISTRIBUTION</text><text x="446.8" y="518.75">PRODUCTS</text><text x="184.7" y="624.6">SERVICES</text><text x="446.9" y="624.6">REVENUE</text><text x="262.2" y="691.7">CUSTOMERS</text><text x="376.1" y="691.7">COMPETENCIES</text></g>
<path d="M243.68 406.27 A18.5 18.5 0 0 1 260.71 385.25" fill="none" stroke="#3fd9c2" stroke-width="3.2"/><path d="M264.57 385.38 L259.99 380.69 L260.79 389.85 Z" fill="#3fd9c2"/><path d="M268.63 386.43 A18.5 18.5 0 0 1 278.33 412.39" fill="none" stroke="#3fd9c2" stroke-width="3.2"/><path d="M276.38 415.34 L282.58 414.19 L274.38 410.01 Z" fill="#3fd9c2"/><path d="M271.80 419.39 A18.5 18.5 0 0 1 246.48 413.78" fill="none" stroke="#3fd9c2" stroke-width="3.2"/><path d="M244.85 410.63 L242.85 416.62 L250.48 411.47 Z" fill="#3fd9c2"/><path d="M259.7 408.6 V405.6 A5.6 5.6 0 1 1 264.3 405.6 V408.6" fill="none" stroke="#3fd9c2" stroke-width="1.8"/><rect x="258.8" y="408.6" width="6.2" height="4.2" rx="0.8" fill="#3fd9c2"/>
<path d="M369.1 386.9 H384 L381.9 394.6 H371.2 Z" fill="#1b7db0"/>
<path d="M370.8 397.4 H382.3 Q385.5 402 392.8 416 Q396.5 423.8 390.5 423.8 H362.2 Q356.2 423.8 359.9 416 Q367.2 402 370.8 397.4 Z" fill="#1b7db0"/>
<path d="M380 408.2 Q378.6 406.4 376.4 406.4 Q373.1 406.4 373.1 409.1 Q373.1 411.2 376.4 412.1 Q380 413.1 380 415.6 Q380 418.3 376.4 418.3 Q373.9 418.3 372.6 416.4 M376.4 404.4 V406.4 M376.4 418.3 V420.2" fill="none" stroke="#ffffff" stroke-width="2.3"/>
<line x1="185.3" y1="485.2" x2="177" y2="472.2" stroke="#1f45b5" stroke-width="1.8"/><line x1="185.3" y1="485.2" x2="177" y2="497.7" stroke="#1f45b5" stroke-width="1.8"/><line x1="185.3" y1="485.2" x2="200.9" y2="485.7" stroke="#1f45b5" stroke-width="1.8"/><circle cx="177" cy="472.2" r="4.6" fill="#1f45b5"/><circle cx="192.1" cy="472.2" r="4.6" fill="#1f45b5"/><circle cx="168.6" cy="485.7" r="4.6" fill="#1f45b5"/><circle cx="200.9" cy="485.7" r="4.6" fill="#1f45b5"/><circle cx="177" cy="497.7" r="4.6" fill="#1f45b5"/><circle cx="192.1" cy="497.7" r="4.6" fill="#1f45b5"/><circle cx="185.3" cy="485.2" r="4.4" fill="#f4f6f8" stroke="#1f45b5" stroke-width="1.9"/>
<defs><linearGradient id="prodg" x1="0" y1="0" x2="1" y2="1"><stop offset="0.35" stop-color="#5a90c4"/><stop offset="0.65" stop-color="#8d9197"/></linearGradient></defs>
<rect x="428.2" y="471.7" width="14.6" height="5.7" fill="#8c8f93"/>
<rect x="450.6" y="471.7" width="14.6" height="5.7" fill="#8c8f93"/>
<path d="M428.2 480 H442.8 V485.2 H450.6 V480 H465.2 V499.5 Q465.2 502.9 461.8 502.9 H431.6 Q428.2 502.9 428.2 499.5 Z" fill="url(#prodg)"/>
<rect x="451" y="492" width="9" height="5.7" fill="#f2f4f6"/>
<defs><linearGradient id="gearg" x1="0" y1="0" x2="1" y2="0"><stop offset="0.05" stop-color="#4fa6a6"/><stop offset="0.3" stop-color="#5b93bb"/><stop offset="0.45" stop-color="#7f8c99"/><stop offset="0.52" stop-color="#8c8d8f"/></linearGradient></defs>
<path d="M190.30 591.09 L192.97 591.35 L192.97 595.25 L190.30 595.51 L189.27 598.69 L191.28 600.47 L188.99 603.62 L186.67 602.26 L183.97 604.22 L184.55 606.84 L180.85 608.05 L179.77 605.59 L176.43 605.59 L175.35 608.05 L171.65 606.84 L172.23 604.22 L169.53 602.26 L167.21 603.62 L164.92 600.47 L166.93 598.69 L165.90 595.51 L163.23 595.25 L163.23 591.35 L165.90 591.09 L166.93 587.91 L164.92 586.13 L167.21 582.98 L169.53 584.34 L172.23 582.38 L171.65 579.76 L175.35 578.55 L176.43 581.01 L179.77 581.01 L180.85 578.55 L184.55 579.76 L183.97 582.38 L186.67 584.34 L188.99 582.98 L191.28 586.13 L189.27 587.91 Z M185.0 593.3 A6.9 6.9 0 1 0 171.2 593.3 A6.9 6.9 0 1 0 185.0 593.3 Z" fill="url(#gearg)" fill-rule="evenodd" stroke="url(#gearg)" stroke-width="0.6" stroke-linejoin="round"/>
<path d="M204.17 573.38 L206.05 573.54 L206.05 576.86 L204.17 577.02 L202.97 579.51 L204.01 581.08 L201.41 583.15 L200.12 581.78 L197.43 582.40 L196.85 584.19 L193.61 583.45 L193.87 581.59 L191.71 579.86 L189.95 580.54 L188.51 577.54 L190.13 576.58 L190.13 573.82 L188.51 572.86 L189.95 569.86 L191.71 570.54 L193.87 568.81 L193.61 566.95 L196.85 566.21 L197.43 568.00 L200.12 568.62 L201.41 567.25 L204.01 569.32 L202.97 570.89 Z M200.6 575.2 A3.4 3.4 0 1 0 193.79999999999998 575.2 A3.4 3.4 0 1 0 200.6 575.2 Z" fill="#8c8d8f" fill-rule="evenodd" stroke="#8c8d8f" stroke-width="0.6" stroke-linejoin="round"/>
<path d="M424.3 589.1 H431 L432.4 592.1 Q440 591.5 450.3 592.8 L454.2 590.6 Q457 589.8 459.1 590.3 Q462 590 464 590.9 Q467 591 468.3 591.8 Q470.3 592.8 469.2 594.4 Q466 597.5 462.8 599.8 Q458 603 454.2 605.3 Q450 607.5 447.5 607.7 L438.3 607.1 L431 605.8 V608.6 H424.3 Z" fill="#1f40bd"/>
<path d="M439.6 600.1 H449.3 Q453.6 599.6 453.4 596.6 Q453.1 593.9 450.4 592.9" fill="none" stroke="#f3f6fa" stroke-width="1.4"/>
<circle cx="445.4" cy="585.1" r="4.1" fill="none" stroke="#1f2f80" stroke-width="2.2"/>
<circle cx="453.3" cy="575.9" r="2.8" fill="none" stroke="#1f2f80" stroke-width="1.9"/>
<circle cx="262.3" cy="649.4" r="9.3" fill="#1b86bf"/>
<path d="M243.8 675.7 V670 Q243.8 662 252 662 H272.5 Q280.7 662 280.7 670 V675.7 H265.5 L263.8 669.5 L265.6 665.5 H258.8 L260.7 669.5 L259 675.7 Z" fill="#1b86bf"/>
<rect x="366.5" y="640.7" width="19.8" height="11.6" rx="1.5" fill="none" stroke="#3fe0c8" stroke-width="3"/>
<path d="M376.3 653.8 V658.3 M364.8 661 V658.3 H388 V661" fill="none" stroke="#3fe0c8" stroke-width="1.6"/>
<rect x="355.3" y="662.5" width="17.4" height="11.7" rx="1.5" fill="none" stroke="#3fe0c8" stroke-width="3"/>
<rect x="379.6" y="662.5" width="17.9" height="11.7" rx="1.5" fill="none" stroke="#3fe0c8" stroke-width="3"/>

<!-- RIGHT -->
<defs><filter id="bl" x="-10%" y="-10%" width="120%" height="120%"><feGaussianBlur stdDeviation="0.9"/></filter></defs>
<circle cx="964" cy="420" r="205" fill="none" stroke="#d5dfe7" stroke-width="19"/>
<circle cx="964.7" cy="420.1" r="97" fill="#9ce6fa"/>
<circle cx="964.7" cy="420.1" r="97" fill="none" stroke="#8fd8ec" stroke-width="1"/>
<path d="M989.0 329.3 A94 94 0 0 1 1058.7 420.1" fill="none" stroke="#c4f7fd" stroke-width="3" opacity="0.7" filter="url(#bl)"/>
<path d="M948.4 512.7 A94 94 0 0 1 871.1 411.9" fill="none" stroke="#bff8fd" stroke-width="3.5" opacity="0.8" filter="url(#bl)"/>
<g font-family="Liberation Sans" font-weight="bold" fill="#e9fbfe" text-anchor="middle"><text x="963.9" y="412.5" font-size="22.5">Uses of</text><text x="963.3" y="441.8" font-size="22.5" letter-spacing="0.7">Cost Model</text></g>
<ellipse cx="963.8" cy="209.4" rx="72.7" ry="68.1" fill="#019ee0" stroke="#0076a8" stroke-width="1"/>
<path d="M957.7 144.5 A69.7 65.1 0 0 1 1033.2 215.1" fill="none" stroke="#59bfea" stroke-width="3" opacity="0.45" filter="url(#bl)"/>
<path d="M951.7 273.5 A69.7 65.1 0 0 1 895.2 220.7" fill="none" stroke="#80ceef" stroke-width="3" opacity="0.6" filter="url(#bl)"/>
<g font-family="Liberation Sans" font-weight="bold" font-size="15" fill="#f4f8fa" text-anchor="middle"><text x="962.70" y="204.8" letter-spacing="-0.500">Risk</text><text x="963.10" y="223.7" letter-spacing="0.367">Management</text></g>
<ellipse cx="781.4" cy="314.8" rx="68.2" ry="67.5" fill="#5f8fbe" stroke="#476b8e" stroke-width="1"/>
<path d="M775.7 250.5 A65.2 64.5 0 0 1 846.4 320.4" fill="none" stroke="#97b6d4" stroke-width="3" opacity="0.45" filter="url(#bl)"/>
<path d="M770.1 378.3 A65.2 64.5 0 0 1 717.2 326.0" fill="none" stroke="#afc7de" stroke-width="3" opacity="0.6" filter="url(#bl)"/>
<g font-family="Liberation Sans" font-weight="bold" font-size="15" fill="#f4f8fa" text-anchor="middle"><text x="781.50" y="300" letter-spacing="0.486">Informed</text><text x="781.00" y="318.75" letter-spacing="-0.143">Decision</text><text x="781.30" y="337.5" letter-spacing="0.480">Making</text></g>
<ellipse cx="1146.2" cy="314.7" rx="68.5" ry="67.6" fill="#164f61" stroke="#103b48" stroke-width="1"/>
<path d="M1140.5 250.3 A65.5 64.6 0 0 1 1211.5 320.3" fill="none" stroke="#678c98" stroke-width="3" opacity="0.45" filter="url(#bl)"/>
<path d="M1134.8 378.3 A65.5 64.6 0 0 1 1081.7 325.9" fill="none" stroke="#8aa7b0" stroke-width="3" opacity="0.6" filter="url(#bl)"/>
<g font-family="Liberation Sans" font-weight="bold" font-size="15" fill="#f4f8fa" text-anchor="middle"><text x="1146.00" y="319.7" letter-spacing="0.175">Valuation</text></g>
<ellipse cx="781.7" cy="525.8" rx="68.2" ry="67.5" fill="#a88a48" stroke="#7e6736" stroke-width="1"/>
<path d="M776.0 461.5 A65.2 64.5 0 0 1 846.7 531.4" fill="none" stroke="#c6b288" stroke-width="3" opacity="0.45" filter="url(#bl)"/>
<path d="M770.4 589.3 A65.2 64.5 0 0 1 717.5 537.0" fill="none" stroke="#d3c4a3" stroke-width="3" opacity="0.6" filter="url(#bl)"/>
<g font-family="Liberation Sans" font-weight="bold" font-size="15" fill="#f4f8fa" text-anchor="middle"><text x="781.50" y="520.8" letter-spacing="-0.317">Raising</text><text x="781.30" y="539.6" letter-spacing="-0.283">Capital</text></g>
<ellipse cx="1146.3" cy="526.1" rx="68.4" ry="67.8" fill="#933d67" stroke="#6e2d4d" stroke-width="1"/>
<path d="M1140.6 461.5 A65.4 64.8 0 0 1 1211.5 531.7" fill="none" stroke="#b8809c" stroke-width="3" opacity="0.45" filter="url(#bl)"/>
<path d="M1134.9 589.9 A65.4 64.8 0 0 1 1081.9 537.4" fill="none" stroke="#c99eb3" stroke-width="3" opacity="0.6" filter="url(#bl)"/>
<g font-family="Liberation Sans" font-weight="bold" font-size="15" fill="#f4f8fa" text-anchor="middle"><text x="1145.20" y="521.0" letter-spacing="0.160">Mergers and</text><text x="1145.20" y="539.4" letter-spacing="-0.264">Acquisitions</text></g>
<ellipse cx="963.9" cy="630.9" rx="67.9" ry="67.5" fill="#995d9b" stroke="#724574" stroke-width="1"/>
<path d="M958.2 566.6 A64.9 64.5 0 0 1 1028.6 636.5" fill="none" stroke="#bc95be" stroke-width="3" opacity="0.45" filter="url(#bl)"/>
<path d="M952.6 694.4 A64.9 64.5 0 0 1 900.0 642.1" fill="none" stroke="#ccaecd" stroke-width="3" opacity="0.6" filter="url(#bl)"/>
<g font-family="Liberation Sans" font-weight="bold" font-size="15" fill="#f4f8fa" text-anchor="middle"><text x="964.30" y="616.7" letter-spacing="0.025">Budgeting</text><text x="964.60" y="635.6" letter-spacing="-0.050">and</text><text x="963.60" y="654.4" letter-spacing="-0.090">Forecasting</text></g>

<!-- logo -->
<g fill="#1ba4de">
<circle cx="1087.4" cy="664.4" r="3.5"/>
<rect x="1084.4" y="679" width="5.2" height="22"/>
<rect x="1082.6" y="679" width="3" height="4.2"/>
</g>
<g fill="none" stroke="#1ba4de" stroke-width="5.3">
<path d="M1094.2 701 V679 M1094.2 690.4 A8.9 8.9 0 0 1 1112 690.4 V701 M1112 690.4 A8.9 8.9 0 0 1 1129.8 690.4 V701"/>
<circle cx="1147.4" cy="690" r="8.2"/>
<path d="M1156.9 679 V701"/>
<path d="M1165 701 V679 M1165 692 A10 10 0 0 1 1175 682 H1180.5"/>
<path d="M1200.63 684.60 A8.4 8.4 0 1 0 1200.63 695.40"/>
</g>
<rect x="1205.8" y="678.6" width="2.3" height="22.2" fill="#111"/>
<g font-family="Liberation Sans" font-weight="bold" font-size="8" fill="#1a1a1a"><text x="1212.8" y="687.6">IMPACTFUL</text><text x="1212.8" y="697.3">INSIGHTS</text></g>
</svg>
</body></html>
